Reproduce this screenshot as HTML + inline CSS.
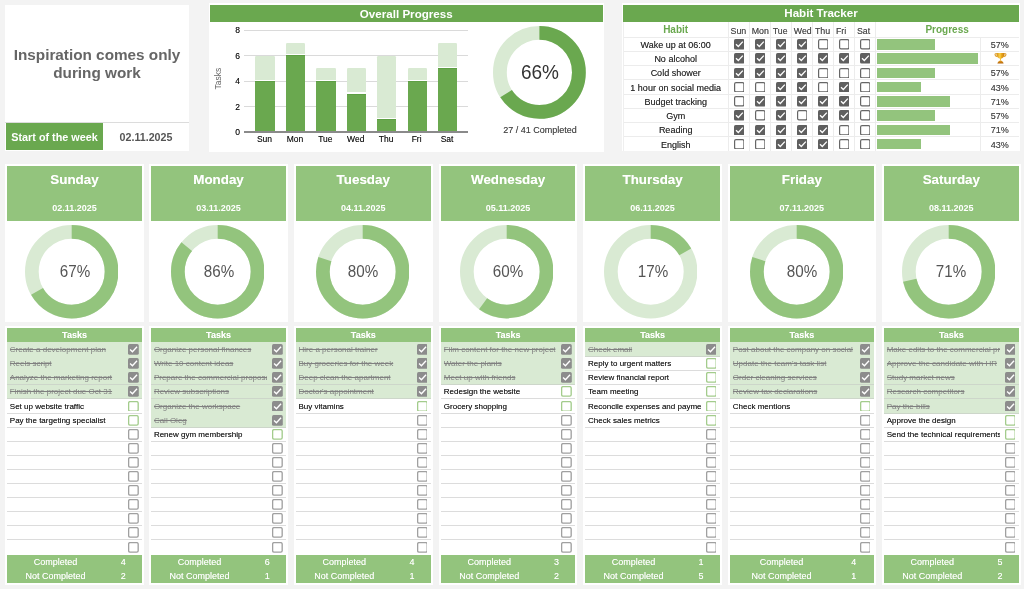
<!DOCTYPE html><html><head><meta charset="utf-8"><style>
html,body{margin:0;padding:0;}
body{width:1024px;height:589px;overflow:hidden;background:#f3f3f3;position:relative;font-family:"Liberation Sans",sans-serif;}
div{box-sizing:border-box;}
body{-webkit-font-smoothing:antialiased;}
#wrap{position:absolute;left:0;top:0;width:1024px;height:589px;will-change:transform;}
</style></head><body><div id="wrap">
<div style="position:absolute;left:5px;top:5px;width:184px;height:146.3px;background:#fff"></div>
<div style="position:absolute;left:5px;top:122px;width:184px;height:1px;background:#dcdcdc"></div>
<div style="position:absolute;left:6px;top:123px;width:97px;height:27.2px;background:#6aa84f"></div>
<div style="position:absolute;left:5px;top:46px;width:184px;height:36px;line-height:36px;text-align:center;white-space:nowrap;font-weight:bold;font-size:15.3px;line-height:17.7px;color:#666;height:auto">Inspiration comes only<br>during work</div>
<div style="position:absolute;left:6px;top:123.6px;width:97px;height:27px;line-height:27px;text-align:center;white-space:nowrap;font-weight:bold;font-size:10.8px;color:#fff">Start of the week</div>
<div style="position:absolute;left:103px;top:123.6px;width:86px;height:27px;line-height:27px;text-align:center;white-space:nowrap;font-weight:bold;font-size:10.7px;color:#555">02.11.2025</div>
<div style="position:absolute;left:209px;top:3px;width:395px;height:148.5px;background:#fff"></div>
<div style="position:absolute;left:209.5px;top:5px;width:393.5px;height:17px;background:#6aa84f"></div>
<div style="position:absolute;left:209.5px;top:5px;width:393.5px;height:17px;line-height:17px;text-align:center;white-space:nowrap;font-weight:bold;font-size:11.6px;color:#fff">Overall Progress</div>
<div style="position:absolute;left:244px;top:29.6px;width:223.5px;height:1px;background:#dadada"></div>
<div style="position:absolute;left:220px;top:24.1px;width:20px;height:12px;line-height:12px;text-align:center;white-space:nowrap;font-size:8.5px;color:#111;text-align:right;text-shadow:0 0 0.4px rgba(0,0,0,0.5)">8</div>
<div style="position:absolute;left:244px;top:55.1px;width:223.5px;height:1px;background:#dadada"></div>
<div style="position:absolute;left:220px;top:49.6px;width:20px;height:12px;line-height:12px;text-align:center;white-space:nowrap;font-size:8.5px;color:#111;text-align:right;text-shadow:0 0 0.4px rgba(0,0,0,0.5)">6</div>
<div style="position:absolute;left:244px;top:80.7px;width:223.5px;height:1px;background:#dadada"></div>
<div style="position:absolute;left:220px;top:75.2px;width:20px;height:12px;line-height:12px;text-align:center;white-space:nowrap;font-size:8.5px;color:#111;text-align:right;text-shadow:0 0 0.4px rgba(0,0,0,0.5)">4</div>
<div style="position:absolute;left:244px;top:106.2px;width:223.5px;height:1px;background:#dadada"></div>
<div style="position:absolute;left:220px;top:100.7px;width:20px;height:12px;line-height:12px;text-align:center;white-space:nowrap;font-size:8.5px;color:#111;text-align:right;text-shadow:0 0 0.4px rgba(0,0,0,0.5)">2</div>
<div style="position:absolute;left:220px;top:126.19999999999999px;width:20px;height:12px;line-height:12px;text-align:center;white-space:nowrap;font-size:8.5px;color:#111;text-align:right;text-shadow:0 0 0.4px rgba(0,0,0,0.5)">0</div>
<div style="position:absolute;left:255.4px;top:55.625px;width:19.4px;height:23.92499999999999px;background:#d9ead3;border-radius:1.3px 1.3px 0 0"></div>
<div style="position:absolute;left:255.4px;top:80.85px;width:19.4px;height:51.349999999999994px;background:#6aa84f;border-top:0.8px solid #5e9f44"></div>
<div style="position:absolute;left:244.8px;top:133.2px;width:39.4px;height:12px;line-height:12px;text-align:center;white-space:nowrap;font-size:8.5px;color:#111;text-shadow:0 0 0.4px rgba(0,0,0,0.5)">Sun</div>
<div style="position:absolute;left:285.82px;top:42.8625px;width:19.4px;height:11.162500000000003px;background:#d9ead3;border-radius:1.3px 1.3px 0 0"></div>
<div style="position:absolute;left:285.82px;top:55.325px;width:19.4px;height:76.87499999999999px;background:#6aa84f;border-top:0.8px solid #5e9f44"></div>
<div style="position:absolute;left:275.21999999999997px;top:133.2px;width:39.4px;height:12px;line-height:12px;text-align:center;white-space:nowrap;font-size:8.5px;color:#111;text-shadow:0 0 0.4px rgba(0,0,0,0.5)">Mon</div>
<div style="position:absolute;left:316.24px;top:68.38749999999999px;width:19.4px;height:11.162500000000003px;background:#d9ead3;border-radius:1.3px 1.3px 0 0"></div>
<div style="position:absolute;left:316.24px;top:80.85px;width:19.4px;height:51.349999999999994px;background:#6aa84f;border-top:0.8px solid #5e9f44"></div>
<div style="position:absolute;left:305.64px;top:133.2px;width:39.4px;height:12px;line-height:12px;text-align:center;white-space:nowrap;font-size:8.5px;color:#111;text-shadow:0 0 0.4px rgba(0,0,0,0.5)">Tue</div>
<div style="position:absolute;left:346.66px;top:68.38749999999999px;width:19.4px;height:23.925000000000004px;background:#d9ead3;border-radius:1.3px 1.3px 0 0"></div>
<div style="position:absolute;left:346.66px;top:93.6125px;width:19.4px;height:38.58749999999999px;background:#6aa84f;border-top:0.8px solid #5e9f44"></div>
<div style="position:absolute;left:336.06px;top:133.2px;width:39.4px;height:12px;line-height:12px;text-align:center;white-space:nowrap;font-size:8.5px;color:#111;text-shadow:0 0 0.4px rgba(0,0,0,0.5)">Wed</div>
<div style="position:absolute;left:377.08000000000004px;top:55.625px;width:19.4px;height:62.212499999999984px;background:#d9ead3;border-radius:1.3px 1.3px 0 0"></div>
<div style="position:absolute;left:377.08000000000004px;top:119.13749999999999px;width:19.4px;height:13.062500000000004px;background:#6aa84f;border-top:0.8px solid #5e9f44"></div>
<div style="position:absolute;left:366.48px;top:133.2px;width:39.4px;height:12px;line-height:12px;text-align:center;white-space:nowrap;font-size:8.5px;color:#111;text-shadow:0 0 0.4px rgba(0,0,0,0.5)">Thu</div>
<div style="position:absolute;left:407.5px;top:68.38749999999999px;width:19.4px;height:11.162500000000003px;background:#d9ead3;border-radius:1.3px 1.3px 0 0"></div>
<div style="position:absolute;left:407.5px;top:80.85px;width:19.4px;height:51.349999999999994px;background:#6aa84f;border-top:0.8px solid #5e9f44"></div>
<div style="position:absolute;left:396.9px;top:133.2px;width:39.4px;height:12px;line-height:12px;text-align:center;white-space:nowrap;font-size:8.5px;color:#111;text-shadow:0 0 0.4px rgba(0,0,0,0.5)">Fri</div>
<div style="position:absolute;left:437.92px;top:42.8625px;width:19.4px;height:23.92499999999999px;background:#d9ead3;border-radius:1.3px 1.3px 0 0"></div>
<div style="position:absolute;left:437.92px;top:68.08749999999999px;width:19.4px;height:64.1125px;background:#6aa84f;border-top:0.8px solid #5e9f44"></div>
<div style="position:absolute;left:427.32px;top:133.2px;width:39.4px;height:12px;line-height:12px;text-align:center;white-space:nowrap;font-size:8.5px;color:#111;text-shadow:0 0 0.4px rgba(0,0,0,0.5)">Sat</div>
<div style="position:absolute;left:244px;top:131.3px;width:223.5px;height:1.4px;background:#8a8a8a"></div>
<div style="position:absolute;left:197.6px;top:73px;width:40px;height:11px;line-height:11px;text-align:center;font-size:8.5px;color:#666;transform:rotate(-90deg)">Tasks</div>
<svg style="position:absolute;left:493.20000000000005px;top:26.1px" width="92.8" height="92.8" viewBox="0 0 92.8 92.8"><circle cx="46.4" cy="46.4" r="39.5" fill="none" stroke="#d9ead3" stroke-width="13.799999999999997"/><circle cx="46.4" cy="46.4" r="39.5" fill="none" stroke="#6aa84f" stroke-width="13.799999999999997" stroke-dasharray="163.439 248.186" transform="rotate(-90 46.4 46.4)"/></svg>
<div style="position:absolute;left:500px;top:60.2px;width:80px;height:24px;line-height:24px;text-align:center;white-space:nowrap;font-size:20px;color:#333;transform:scaleX(0.95)">66%</div>
<div style="position:absolute;left:490px;top:123.7px;width:100px;height:13px;line-height:13px;text-align:center;white-space:nowrap;font-size:9px;color:#4a4a4a;text-shadow:0 0 0.4px rgba(0,0,0,0.5)">27 / 41 Completed</div>
<div style="position:absolute;left:622px;top:3px;width:398px;height:148.2px;background:#fff"></div>
<div style="position:absolute;left:623px;top:5px;width:396px;height:16.5px;background:#6aa84f"></div>
<div style="position:absolute;left:623px;top:5px;width:396px;height:16.5px;line-height:16.5px;text-align:center;white-space:nowrap;font-weight:bold;font-size:11.6px;color:#fff">Habit Tracker</div>
<div style="position:absolute;left:623px;top:36.7px;width:396px;height:1px;background:#ececec"></div>
<div style="position:absolute;left:623px;top:50.95px;width:396px;height:1px;background:#ececec"></div>
<div style="position:absolute;left:623px;top:65.2px;width:396px;height:1px;background:#ececec"></div>
<div style="position:absolute;left:623px;top:79.45px;width:396px;height:1px;background:#ececec"></div>
<div style="position:absolute;left:623px;top:93.7px;width:396px;height:1px;background:#ececec"></div>
<div style="position:absolute;left:623px;top:107.95px;width:396px;height:1px;background:#ececec"></div>
<div style="position:absolute;left:623px;top:122.2px;width:396px;height:1px;background:#ececec"></div>
<div style="position:absolute;left:623px;top:136.45px;width:396px;height:1px;background:#ececec"></div>
<div style="position:absolute;left:727.8px;top:21.5px;width:1px;height:129.7px;background:#ececec"></div>
<div style="position:absolute;left:748.9px;top:21.5px;width:1px;height:129.7px;background:#ececec"></div>
<div style="position:absolute;left:769.9px;top:21.5px;width:1px;height:129.7px;background:#ececec"></div>
<div style="position:absolute;left:791.0px;top:21.5px;width:1px;height:129.7px;background:#ececec"></div>
<div style="position:absolute;left:812.1px;top:21.5px;width:1px;height:129.7px;background:#ececec"></div>
<div style="position:absolute;left:833.1px;top:21.5px;width:1px;height:129.7px;background:#ececec"></div>
<div style="position:absolute;left:854.1px;top:21.5px;width:1px;height:129.7px;background:#ececec"></div>
<div style="position:absolute;left:874.7px;top:21.5px;width:1px;height:129.7px;background:#ececec"></div>
<div style="position:absolute;left:979.8px;top:37.2px;width:1px;height:114px;background:#ececec"></div>
<div style="position:absolute;left:623px;top:21.5px;width:1px;height:129.7px;background:#efefef"></div>
<div style="position:absolute;left:623px;top:21.5px;width:105.3px;height:15.6px;line-height:15.6px;text-align:center;white-space:nowrap;font-weight:bold;font-size:10px;color:#6aa84f">Habit</div>
<div style="position:absolute;left:730.5999999999999px;top:24.2px;width:21.100000000000023px;height:15.6px;line-height:15.6px;text-align:center;white-space:nowrap;text-align:left;font-size:8.8px;color:#4a4a4a;text-shadow:0 0 0.4px rgba(0,0,0,0.5)">Sun</div>
<div style="position:absolute;left:751.6999999999999px;top:24.2px;width:21.0px;height:15.6px;line-height:15.6px;text-align:center;white-space:nowrap;text-align:left;font-size:8.8px;color:#4a4a4a;text-shadow:0 0 0.4px rgba(0,0,0,0.5)">Mon</div>
<div style="position:absolute;left:772.6999999999999px;top:24.2px;width:21.100000000000023px;height:15.6px;line-height:15.6px;text-align:center;white-space:nowrap;text-align:left;font-size:8.8px;color:#4a4a4a;text-shadow:0 0 0.4px rgba(0,0,0,0.5)">Tue</div>
<div style="position:absolute;left:793.8px;top:24.2px;width:21.100000000000023px;height:15.6px;line-height:15.6px;text-align:center;white-space:nowrap;text-align:left;font-size:8.8px;color:#4a4a4a;text-shadow:0 0 0.4px rgba(0,0,0,0.5)">Wed</div>
<div style="position:absolute;left:814.9px;top:24.2px;width:21.0px;height:15.6px;line-height:15.6px;text-align:center;white-space:nowrap;text-align:left;font-size:8.8px;color:#4a4a4a;text-shadow:0 0 0.4px rgba(0,0,0,0.5)">Thu</div>
<div style="position:absolute;left:835.9px;top:24.2px;width:21.0px;height:15.6px;line-height:15.6px;text-align:center;white-space:nowrap;text-align:left;font-size:8.8px;color:#4a4a4a;text-shadow:0 0 0.4px rgba(0,0,0,0.5)">Fri</div>
<div style="position:absolute;left:856.9px;top:24.2px;width:20.600000000000023px;height:15.6px;line-height:15.6px;text-align:center;white-space:nowrap;text-align:left;font-size:8.8px;color:#4a4a4a;text-shadow:0 0 0.4px rgba(0,0,0,0.5)">Sat</div>
<div style="position:absolute;left:875.2px;top:21.5px;width:143.8px;height:15.6px;line-height:15.6px;text-align:center;white-space:nowrap;font-weight:bold;font-size:10px;color:#6aa84f">Progress</div>
<div style="position:absolute;left:623px;top:37.900000000000006px;width:105.3px;height:14.25px;line-height:14.25px;text-align:center;white-space:nowrap;font-size:9px;color:#2a2a2a;text-shadow:0 0 0.4px rgba(0,0,0,0.5)">Wake up at 06:00</div>
<svg style="position:absolute;left:733.5999999999999px;top:39.075px" width="10.5" height="10.5" viewBox="0 0 10.5 10.5"><rect x="0" y="0" width="10.5" height="10.5" rx="1.6" fill="#5f5f5f"/><path d="M2 5.3 L4.3 7.5 L8.8 2.6" fill="none" stroke="#fff" stroke-width="1.3"/></svg>
<svg style="position:absolute;left:754.65px;top:39.075px" width="10.5" height="10.5" viewBox="0 0 10.5 10.5"><rect x="0" y="0" width="10.5" height="10.5" rx="1.6" fill="#5f5f5f"/><path d="M2 5.3 L4.3 7.5 L8.8 2.6" fill="none" stroke="#fff" stroke-width="1.3"/></svg>
<svg style="position:absolute;left:775.7px;top:39.075px" width="10.5" height="10.5" viewBox="0 0 10.5 10.5"><rect x="0" y="0" width="10.5" height="10.5" rx="1.6" fill="#5f5f5f"/><path d="M2 5.3 L4.3 7.5 L8.8 2.6" fill="none" stroke="#fff" stroke-width="1.3"/></svg>
<svg style="position:absolute;left:796.8px;top:39.075px" width="10.5" height="10.5" viewBox="0 0 10.5 10.5"><rect x="0" y="0" width="10.5" height="10.5" rx="1.6" fill="#5f5f5f"/><path d="M2 5.3 L4.3 7.5 L8.8 2.6" fill="none" stroke="#fff" stroke-width="1.3"/></svg>
<svg style="position:absolute;left:817.85px;top:39.075px" width="10.5" height="10.5" viewBox="0 0 10.5 10.5"><rect x="0.6" y="0.6" width="9.3" height="9.3" rx="1.4" fill="#fff" stroke="#666" stroke-width="1.2"/></svg>
<svg style="position:absolute;left:838.85px;top:39.075px" width="10.5" height="10.5" viewBox="0 0 10.5 10.5"><rect x="0.6" y="0.6" width="9.3" height="9.3" rx="1.4" fill="#fff" stroke="#666" stroke-width="1.2"/></svg>
<svg style="position:absolute;left:859.6500000000001px;top:39.075px" width="10.5" height="10.5" viewBox="0 0 10.5 10.5"><rect x="0.6" y="0.6" width="9.3" height="9.3" rx="1.4" fill="#fff" stroke="#666" stroke-width="1.2"/></svg>
<div style="position:absolute;left:877.3px;top:39.225px;width:57.771428571428565px;height:10.5px;background:#93c47d"></div>
<div style="position:absolute;left:980.3px;top:37.900000000000006px;width:38.7px;height:14.25px;line-height:14.25px;text-align:center;white-space:nowrap;font-size:9px;color:#4a4a4a;text-shadow:0 0 0.4px rgba(0,0,0,0.5)">57%</div>
<div style="position:absolute;left:623px;top:52.150000000000006px;width:105.3px;height:14.25px;line-height:14.25px;text-align:center;white-space:nowrap;font-size:9px;color:#2a2a2a;text-shadow:0 0 0.4px rgba(0,0,0,0.5)">No alcohol</div>
<svg style="position:absolute;left:733.5999999999999px;top:53.325px" width="10.5" height="10.5" viewBox="0 0 10.5 10.5"><rect x="0" y="0" width="10.5" height="10.5" rx="1.6" fill="#5f5f5f"/><path d="M2 5.3 L4.3 7.5 L8.8 2.6" fill="none" stroke="#fff" stroke-width="1.3"/></svg>
<svg style="position:absolute;left:754.65px;top:53.325px" width="10.5" height="10.5" viewBox="0 0 10.5 10.5"><rect x="0" y="0" width="10.5" height="10.5" rx="1.6" fill="#5f5f5f"/><path d="M2 5.3 L4.3 7.5 L8.8 2.6" fill="none" stroke="#fff" stroke-width="1.3"/></svg>
<svg style="position:absolute;left:775.7px;top:53.325px" width="10.5" height="10.5" viewBox="0 0 10.5 10.5"><rect x="0" y="0" width="10.5" height="10.5" rx="1.6" fill="#5f5f5f"/><path d="M2 5.3 L4.3 7.5 L8.8 2.6" fill="none" stroke="#fff" stroke-width="1.3"/></svg>
<svg style="position:absolute;left:796.8px;top:53.325px" width="10.5" height="10.5" viewBox="0 0 10.5 10.5"><rect x="0" y="0" width="10.5" height="10.5" rx="1.6" fill="#5f5f5f"/><path d="M2 5.3 L4.3 7.5 L8.8 2.6" fill="none" stroke="#fff" stroke-width="1.3"/></svg>
<svg style="position:absolute;left:817.85px;top:53.325px" width="10.5" height="10.5" viewBox="0 0 10.5 10.5"><rect x="0" y="0" width="10.5" height="10.5" rx="1.6" fill="#5f5f5f"/><path d="M2 5.3 L4.3 7.5 L8.8 2.6" fill="none" stroke="#fff" stroke-width="1.3"/></svg>
<svg style="position:absolute;left:838.85px;top:53.325px" width="10.5" height="10.5" viewBox="0 0 10.5 10.5"><rect x="0" y="0" width="10.5" height="10.5" rx="1.6" fill="#5f5f5f"/><path d="M2 5.3 L4.3 7.5 L8.8 2.6" fill="none" stroke="#fff" stroke-width="1.3"/></svg>
<svg style="position:absolute;left:859.6500000000001px;top:53.325px" width="10.5" height="10.5" viewBox="0 0 10.5 10.5"><rect x="0" y="0" width="10.5" height="10.5" rx="1.6" fill="#5f5f5f"/><path d="M2 5.3 L4.3 7.5 L8.8 2.6" fill="none" stroke="#fff" stroke-width="1.3"/></svg>
<div style="position:absolute;left:877.3px;top:53.475px;width:101.1px;height:10.5px;background:#93c47d"></div>
<svg style="position:absolute;left:993.5px;top:52.3px" width="13" height="12" viewBox="0 0 13 12"><defs><linearGradient id="tg" x1="0" x2="1" y1="0" y2="0"><stop offset="0" stop-color="#d08a10"/><stop offset="0.45" stop-color="#ffd54a"/><stop offset="0.55" stop-color="#f0b020"/><stop offset="1" stop-color="#c87a0c"/></linearGradient><linearGradient id="tb" x1="0" x2="0" y1="0" y2="1"><stop offset="0" stop-color="#e8a020"/><stop offset="1" stop-color="#b0600a"/></linearGradient></defs><path d="M2.4 1.5 C0.3 1.5 0.6 4.2 3.4 4.6 M10.6 1.5 C12.7 1.5 12.4 4.2 9.6 4.6" fill="none" stroke="#e0a030" stroke-width="1.1"/><path d="M2.3 0.9 H10.7 C10.7 4.0 9.4 6.0 7.0 6.7 V8.6 H6.0 V6.7 C3.6 6.0 2.3 4.0 2.3 0.9 Z" fill="url(#tg)"/><path d="M3.4 11.6 C3.6 10.0 5.0 8.9 6.5 8.6 C8.0 8.9 9.4 10.0 9.6 11.6 Z" fill="url(#tb)"/></svg>
<div style="position:absolute;left:623px;top:66.4px;width:105.3px;height:14.25px;line-height:14.25px;text-align:center;white-space:nowrap;font-size:9px;color:#2a2a2a;text-shadow:0 0 0.4px rgba(0,0,0,0.5)">Cold shower</div>
<svg style="position:absolute;left:733.5999999999999px;top:67.575px" width="10.5" height="10.5" viewBox="0 0 10.5 10.5"><rect x="0" y="0" width="10.5" height="10.5" rx="1.6" fill="#5f5f5f"/><path d="M2 5.3 L4.3 7.5 L8.8 2.6" fill="none" stroke="#fff" stroke-width="1.3"/></svg>
<svg style="position:absolute;left:754.65px;top:67.575px" width="10.5" height="10.5" viewBox="0 0 10.5 10.5"><rect x="0" y="0" width="10.5" height="10.5" rx="1.6" fill="#5f5f5f"/><path d="M2 5.3 L4.3 7.5 L8.8 2.6" fill="none" stroke="#fff" stroke-width="1.3"/></svg>
<svg style="position:absolute;left:775.7px;top:67.575px" width="10.5" height="10.5" viewBox="0 0 10.5 10.5"><rect x="0" y="0" width="10.5" height="10.5" rx="1.6" fill="#5f5f5f"/><path d="M2 5.3 L4.3 7.5 L8.8 2.6" fill="none" stroke="#fff" stroke-width="1.3"/></svg>
<svg style="position:absolute;left:796.8px;top:67.575px" width="10.5" height="10.5" viewBox="0 0 10.5 10.5"><rect x="0" y="0" width="10.5" height="10.5" rx="1.6" fill="#5f5f5f"/><path d="M2 5.3 L4.3 7.5 L8.8 2.6" fill="none" stroke="#fff" stroke-width="1.3"/></svg>
<svg style="position:absolute;left:817.85px;top:67.575px" width="10.5" height="10.5" viewBox="0 0 10.5 10.5"><rect x="0.6" y="0.6" width="9.3" height="9.3" rx="1.4" fill="#fff" stroke="#666" stroke-width="1.2"/></svg>
<svg style="position:absolute;left:838.85px;top:67.575px" width="10.5" height="10.5" viewBox="0 0 10.5 10.5"><rect x="0.6" y="0.6" width="9.3" height="9.3" rx="1.4" fill="#fff" stroke="#666" stroke-width="1.2"/></svg>
<svg style="position:absolute;left:859.6500000000001px;top:67.575px" width="10.5" height="10.5" viewBox="0 0 10.5 10.5"><rect x="0.6" y="0.6" width="9.3" height="9.3" rx="1.4" fill="#fff" stroke="#666" stroke-width="1.2"/></svg>
<div style="position:absolute;left:877.3px;top:67.72500000000001px;width:57.771428571428565px;height:10.5px;background:#93c47d"></div>
<div style="position:absolute;left:980.3px;top:66.4px;width:38.7px;height:14.25px;line-height:14.25px;text-align:center;white-space:nowrap;font-size:9px;color:#4a4a4a;text-shadow:0 0 0.4px rgba(0,0,0,0.5)">57%</div>
<div style="position:absolute;left:623px;top:80.65px;width:105.3px;height:14.25px;line-height:14.25px;text-align:center;white-space:nowrap;font-size:9px;color:#2a2a2a;text-shadow:0 0 0.4px rgba(0,0,0,0.5)">1 hour on social media</div>
<svg style="position:absolute;left:733.5999999999999px;top:81.825px" width="10.5" height="10.5" viewBox="0 0 10.5 10.5"><rect x="0.6" y="0.6" width="9.3" height="9.3" rx="1.4" fill="#fff" stroke="#666" stroke-width="1.2"/></svg>
<svg style="position:absolute;left:754.65px;top:81.825px" width="10.5" height="10.5" viewBox="0 0 10.5 10.5"><rect x="0.6" y="0.6" width="9.3" height="9.3" rx="1.4" fill="#fff" stroke="#666" stroke-width="1.2"/></svg>
<svg style="position:absolute;left:775.7px;top:81.825px" width="10.5" height="10.5" viewBox="0 0 10.5 10.5"><rect x="0" y="0" width="10.5" height="10.5" rx="1.6" fill="#5f5f5f"/><path d="M2 5.3 L4.3 7.5 L8.8 2.6" fill="none" stroke="#fff" stroke-width="1.3"/></svg>
<svg style="position:absolute;left:796.8px;top:81.825px" width="10.5" height="10.5" viewBox="0 0 10.5 10.5"><rect x="0" y="0" width="10.5" height="10.5" rx="1.6" fill="#5f5f5f"/><path d="M2 5.3 L4.3 7.5 L8.8 2.6" fill="none" stroke="#fff" stroke-width="1.3"/></svg>
<svg style="position:absolute;left:817.85px;top:81.825px" width="10.5" height="10.5" viewBox="0 0 10.5 10.5"><rect x="0.6" y="0.6" width="9.3" height="9.3" rx="1.4" fill="#fff" stroke="#666" stroke-width="1.2"/></svg>
<svg style="position:absolute;left:838.85px;top:81.825px" width="10.5" height="10.5" viewBox="0 0 10.5 10.5"><rect x="0" y="0" width="10.5" height="10.5" rx="1.6" fill="#5f5f5f"/><path d="M2 5.3 L4.3 7.5 L8.8 2.6" fill="none" stroke="#fff" stroke-width="1.3"/></svg>
<svg style="position:absolute;left:859.6500000000001px;top:81.825px" width="10.5" height="10.5" viewBox="0 0 10.5 10.5"><rect x="0.6" y="0.6" width="9.3" height="9.3" rx="1.4" fill="#fff" stroke="#666" stroke-width="1.2"/></svg>
<div style="position:absolute;left:877.3px;top:81.97500000000001px;width:43.32857142857142px;height:10.5px;background:#93c47d"></div>
<div style="position:absolute;left:980.3px;top:80.65px;width:38.7px;height:14.25px;line-height:14.25px;text-align:center;white-space:nowrap;font-size:9px;color:#4a4a4a;text-shadow:0 0 0.4px rgba(0,0,0,0.5)">43%</div>
<div style="position:absolute;left:623px;top:94.9px;width:105.3px;height:14.25px;line-height:14.25px;text-align:center;white-space:nowrap;font-size:9px;color:#2a2a2a;text-shadow:0 0 0.4px rgba(0,0,0,0.5)">Budget tracking</div>
<svg style="position:absolute;left:733.5999999999999px;top:96.075px" width="10.5" height="10.5" viewBox="0 0 10.5 10.5"><rect x="0.6" y="0.6" width="9.3" height="9.3" rx="1.4" fill="#fff" stroke="#666" stroke-width="1.2"/></svg>
<svg style="position:absolute;left:754.65px;top:96.075px" width="10.5" height="10.5" viewBox="0 0 10.5 10.5"><rect x="0" y="0" width="10.5" height="10.5" rx="1.6" fill="#5f5f5f"/><path d="M2 5.3 L4.3 7.5 L8.8 2.6" fill="none" stroke="#fff" stroke-width="1.3"/></svg>
<svg style="position:absolute;left:775.7px;top:96.075px" width="10.5" height="10.5" viewBox="0 0 10.5 10.5"><rect x="0" y="0" width="10.5" height="10.5" rx="1.6" fill="#5f5f5f"/><path d="M2 5.3 L4.3 7.5 L8.8 2.6" fill="none" stroke="#fff" stroke-width="1.3"/></svg>
<svg style="position:absolute;left:796.8px;top:96.075px" width="10.5" height="10.5" viewBox="0 0 10.5 10.5"><rect x="0" y="0" width="10.5" height="10.5" rx="1.6" fill="#5f5f5f"/><path d="M2 5.3 L4.3 7.5 L8.8 2.6" fill="none" stroke="#fff" stroke-width="1.3"/></svg>
<svg style="position:absolute;left:817.85px;top:96.075px" width="10.5" height="10.5" viewBox="0 0 10.5 10.5"><rect x="0" y="0" width="10.5" height="10.5" rx="1.6" fill="#5f5f5f"/><path d="M2 5.3 L4.3 7.5 L8.8 2.6" fill="none" stroke="#fff" stroke-width="1.3"/></svg>
<svg style="position:absolute;left:838.85px;top:96.075px" width="10.5" height="10.5" viewBox="0 0 10.5 10.5"><rect x="0" y="0" width="10.5" height="10.5" rx="1.6" fill="#5f5f5f"/><path d="M2 5.3 L4.3 7.5 L8.8 2.6" fill="none" stroke="#fff" stroke-width="1.3"/></svg>
<svg style="position:absolute;left:859.6500000000001px;top:96.075px" width="10.5" height="10.5" viewBox="0 0 10.5 10.5"><rect x="0.6" y="0.6" width="9.3" height="9.3" rx="1.4" fill="#fff" stroke="#666" stroke-width="1.2"/></svg>
<div style="position:absolute;left:877.3px;top:96.22500000000001px;width:72.21428571428571px;height:10.5px;background:#93c47d"></div>
<div style="position:absolute;left:980.3px;top:94.9px;width:38.7px;height:14.25px;line-height:14.25px;text-align:center;white-space:nowrap;font-size:9px;color:#4a4a4a;text-shadow:0 0 0.4px rgba(0,0,0,0.5)">71%</div>
<div style="position:absolute;left:623px;top:109.15px;width:105.3px;height:14.25px;line-height:14.25px;text-align:center;white-space:nowrap;font-size:9px;color:#2a2a2a;text-shadow:0 0 0.4px rgba(0,0,0,0.5)">Gym</div>
<svg style="position:absolute;left:733.5999999999999px;top:110.325px" width="10.5" height="10.5" viewBox="0 0 10.5 10.5"><rect x="0" y="0" width="10.5" height="10.5" rx="1.6" fill="#5f5f5f"/><path d="M2 5.3 L4.3 7.5 L8.8 2.6" fill="none" stroke="#fff" stroke-width="1.3"/></svg>
<svg style="position:absolute;left:754.65px;top:110.325px" width="10.5" height="10.5" viewBox="0 0 10.5 10.5"><rect x="0.6" y="0.6" width="9.3" height="9.3" rx="1.4" fill="#fff" stroke="#666" stroke-width="1.2"/></svg>
<svg style="position:absolute;left:775.7px;top:110.325px" width="10.5" height="10.5" viewBox="0 0 10.5 10.5"><rect x="0" y="0" width="10.5" height="10.5" rx="1.6" fill="#5f5f5f"/><path d="M2 5.3 L4.3 7.5 L8.8 2.6" fill="none" stroke="#fff" stroke-width="1.3"/></svg>
<svg style="position:absolute;left:796.8px;top:110.325px" width="10.5" height="10.5" viewBox="0 0 10.5 10.5"><rect x="0.6" y="0.6" width="9.3" height="9.3" rx="1.4" fill="#fff" stroke="#666" stroke-width="1.2"/></svg>
<svg style="position:absolute;left:817.85px;top:110.325px" width="10.5" height="10.5" viewBox="0 0 10.5 10.5"><rect x="0" y="0" width="10.5" height="10.5" rx="1.6" fill="#5f5f5f"/><path d="M2 5.3 L4.3 7.5 L8.8 2.6" fill="none" stroke="#fff" stroke-width="1.3"/></svg>
<svg style="position:absolute;left:838.85px;top:110.325px" width="10.5" height="10.5" viewBox="0 0 10.5 10.5"><rect x="0" y="0" width="10.5" height="10.5" rx="1.6" fill="#5f5f5f"/><path d="M2 5.3 L4.3 7.5 L8.8 2.6" fill="none" stroke="#fff" stroke-width="1.3"/></svg>
<svg style="position:absolute;left:859.6500000000001px;top:110.325px" width="10.5" height="10.5" viewBox="0 0 10.5 10.5"><rect x="0.6" y="0.6" width="9.3" height="9.3" rx="1.4" fill="#fff" stroke="#666" stroke-width="1.2"/></svg>
<div style="position:absolute;left:877.3px;top:110.47500000000001px;width:57.771428571428565px;height:10.5px;background:#93c47d"></div>
<div style="position:absolute;left:980.3px;top:109.15px;width:38.7px;height:14.25px;line-height:14.25px;text-align:center;white-space:nowrap;font-size:9px;color:#4a4a4a;text-shadow:0 0 0.4px rgba(0,0,0,0.5)">57%</div>
<div style="position:absolute;left:623px;top:123.4px;width:105.3px;height:14.25px;line-height:14.25px;text-align:center;white-space:nowrap;font-size:9px;color:#2a2a2a;text-shadow:0 0 0.4px rgba(0,0,0,0.5)">Reading</div>
<svg style="position:absolute;left:733.5999999999999px;top:124.57499999999999px" width="10.5" height="10.5" viewBox="0 0 10.5 10.5"><rect x="0" y="0" width="10.5" height="10.5" rx="1.6" fill="#5f5f5f"/><path d="M2 5.3 L4.3 7.5 L8.8 2.6" fill="none" stroke="#fff" stroke-width="1.3"/></svg>
<svg style="position:absolute;left:754.65px;top:124.57499999999999px" width="10.5" height="10.5" viewBox="0 0 10.5 10.5"><rect x="0" y="0" width="10.5" height="10.5" rx="1.6" fill="#5f5f5f"/><path d="M2 5.3 L4.3 7.5 L8.8 2.6" fill="none" stroke="#fff" stroke-width="1.3"/></svg>
<svg style="position:absolute;left:775.7px;top:124.57499999999999px" width="10.5" height="10.5" viewBox="0 0 10.5 10.5"><rect x="0" y="0" width="10.5" height="10.5" rx="1.6" fill="#5f5f5f"/><path d="M2 5.3 L4.3 7.5 L8.8 2.6" fill="none" stroke="#fff" stroke-width="1.3"/></svg>
<svg style="position:absolute;left:796.8px;top:124.57499999999999px" width="10.5" height="10.5" viewBox="0 0 10.5 10.5"><rect x="0" y="0" width="10.5" height="10.5" rx="1.6" fill="#5f5f5f"/><path d="M2 5.3 L4.3 7.5 L8.8 2.6" fill="none" stroke="#fff" stroke-width="1.3"/></svg>
<svg style="position:absolute;left:817.85px;top:124.57499999999999px" width="10.5" height="10.5" viewBox="0 0 10.5 10.5"><rect x="0" y="0" width="10.5" height="10.5" rx="1.6" fill="#5f5f5f"/><path d="M2 5.3 L4.3 7.5 L8.8 2.6" fill="none" stroke="#fff" stroke-width="1.3"/></svg>
<svg style="position:absolute;left:838.85px;top:124.57499999999999px" width="10.5" height="10.5" viewBox="0 0 10.5 10.5"><rect x="0.6" y="0.6" width="9.3" height="9.3" rx="1.4" fill="#fff" stroke="#666" stroke-width="1.2"/></svg>
<svg style="position:absolute;left:859.6500000000001px;top:124.57499999999999px" width="10.5" height="10.5" viewBox="0 0 10.5 10.5"><rect x="0.6" y="0.6" width="9.3" height="9.3" rx="1.4" fill="#fff" stroke="#666" stroke-width="1.2"/></svg>
<div style="position:absolute;left:877.3px;top:124.725px;width:72.21428571428571px;height:10.5px;background:#93c47d"></div>
<div style="position:absolute;left:980.3px;top:123.4px;width:38.7px;height:14.25px;line-height:14.25px;text-align:center;white-space:nowrap;font-size:9px;color:#4a4a4a;text-shadow:0 0 0.4px rgba(0,0,0,0.5)">71%</div>
<div style="position:absolute;left:623px;top:137.64999999999998px;width:105.3px;height:14.25px;line-height:14.25px;text-align:center;white-space:nowrap;font-size:9px;color:#2a2a2a;text-shadow:0 0 0.4px rgba(0,0,0,0.5)">English</div>
<svg style="position:absolute;left:733.5999999999999px;top:138.825px" width="10.5" height="10.5" viewBox="0 0 10.5 10.5"><rect x="0.6" y="0.6" width="9.3" height="9.3" rx="1.4" fill="#fff" stroke="#666" stroke-width="1.2"/></svg>
<svg style="position:absolute;left:754.65px;top:138.825px" width="10.5" height="10.5" viewBox="0 0 10.5 10.5"><rect x="0.6" y="0.6" width="9.3" height="9.3" rx="1.4" fill="#fff" stroke="#666" stroke-width="1.2"/></svg>
<svg style="position:absolute;left:775.7px;top:138.825px" width="10.5" height="10.5" viewBox="0 0 10.5 10.5"><rect x="0" y="0" width="10.5" height="10.5" rx="1.6" fill="#5f5f5f"/><path d="M2 5.3 L4.3 7.5 L8.8 2.6" fill="none" stroke="#fff" stroke-width="1.3"/></svg>
<svg style="position:absolute;left:796.8px;top:138.825px" width="10.5" height="10.5" viewBox="0 0 10.5 10.5"><rect x="0" y="0" width="10.5" height="10.5" rx="1.6" fill="#5f5f5f"/><path d="M2 5.3 L4.3 7.5 L8.8 2.6" fill="none" stroke="#fff" stroke-width="1.3"/></svg>
<svg style="position:absolute;left:817.85px;top:138.825px" width="10.5" height="10.5" viewBox="0 0 10.5 10.5"><rect x="0" y="0" width="10.5" height="10.5" rx="1.6" fill="#5f5f5f"/><path d="M2 5.3 L4.3 7.5 L8.8 2.6" fill="none" stroke="#fff" stroke-width="1.3"/></svg>
<svg style="position:absolute;left:838.85px;top:138.825px" width="10.5" height="10.5" viewBox="0 0 10.5 10.5"><rect x="0.6" y="0.6" width="9.3" height="9.3" rx="1.4" fill="#fff" stroke="#666" stroke-width="1.2"/></svg>
<svg style="position:absolute;left:859.6500000000001px;top:138.825px" width="10.5" height="10.5" viewBox="0 0 10.5 10.5"><rect x="0.6" y="0.6" width="9.3" height="9.3" rx="1.4" fill="#fff" stroke="#666" stroke-width="1.2"/></svg>
<div style="position:absolute;left:877.3px;top:138.975px;width:43.32857142857142px;height:10.5px;background:#93c47d"></div>
<div style="position:absolute;left:980.3px;top:137.64999999999998px;width:38.7px;height:14.25px;line-height:14.25px;text-align:center;white-space:nowrap;font-size:9px;color:#4a4a4a;text-shadow:0 0 0.4px rgba(0,0,0,0.5)">43%</div>
<div style="position:absolute;left:5px;top:164px;width:139px;height:158px;background:#fff"></div>
<div style="position:absolute;left:6.8px;top:166px;width:135.4px;height:54.7px;background:#93c47d"></div>
<div style="position:absolute;left:6.8px;top:171px;width:135.4px;height:18px;line-height:18px;text-align:center;white-space:nowrap;font-weight:bold;font-size:13.4px;color:#fff;text-shadow:0 0 0.4px rgba(255,255,255,0.6)">Sunday</div>
<div style="position:absolute;left:6.8px;top:200.7px;width:135.4px;height:14px;line-height:14px;text-align:center;white-space:nowrap;font-weight:bold;font-size:9px;color:#fff">02.11.2025</div>
<svg style="position:absolute;left:24.89999999999999px;top:225.2px" width="93.4" height="93.4" viewBox="0 0 93.4 93.4"><circle cx="46.7" cy="46.7" r="39.85" fill="none" stroke="#d9ead3" stroke-width="13.700000000000003"/><circle cx="46.7" cy="46.7" r="39.85" fill="none" stroke="#93c47d" stroke-width="13.700000000000003" stroke-dasharray="166.923 250.385" transform="rotate(-90 46.7 46.7)"/></svg>
<div style="position:absolute;left:34.5px;top:262px;width:80px;height:20px;line-height:20px;text-align:center;white-space:nowrap;font-size:16px;color:#555;transform:scaleX(0.95)">67%</div>
<div style="position:absolute;left:5px;top:325.5px;width:139px;height:259px;background:#fff"></div>
<div style="position:absolute;left:6.8px;top:328px;width:135.4px;height:14px;background:#93c47d"></div>
<div style="position:absolute;left:6.8px;top:328px;width:135.4px;height:14px;line-height:14px;text-align:center;white-space:nowrap;font-weight:bold;font-size:9px;color:#fff;text-shadow:0 0 0.4px rgba(255,255,255,0.6)">Tasks</div>
<div style="position:absolute;left:6.8px;top:342px;width:135.4px;height:14.300000000000011px;background:#d9ead3"></div>
<div style="position:absolute;left:6.8px;top:355.8px;width:135.4px;height:1px;background:#cdd6ca"></div>
<div style="position:absolute;left:9.8px;top:342.8px;width:113.20000000000002px;height:14.300000000000011px;line-height:14.300000000000011px;white-space:nowrap;overflow:hidden;font-size:8px;color:#808080;text-decoration:line-through">Create a development plan</div>
<svg style="position:absolute;left:127.80000000000001px;top:343.75px" width="10.8" height="10.8" viewBox="0 0 10.5 10.5"><rect x="0" y="0" width="10.5" height="10.5" rx="1.6" fill="#8c8c8c"/><path d="M2 5.3 L4.3 7.5 L8.8 2.6" fill="none" stroke="#fff" stroke-width="1.3"/></svg>
<div style="position:absolute;left:6.8px;top:356.3px;width:135.4px;height:14.099999999999966px;background:#d9ead3"></div>
<div style="position:absolute;left:6.8px;top:369.9px;width:135.4px;height:1px;background:#cdd6ca"></div>
<div style="position:absolute;left:9.8px;top:357.1px;width:113.20000000000002px;height:14.099999999999966px;line-height:14.099999999999966px;white-space:nowrap;overflow:hidden;font-size:8px;color:#808080;text-decoration:line-through">Reels script</div>
<svg style="position:absolute;left:127.80000000000001px;top:357.95000000000005px" width="10.8" height="10.8" viewBox="0 0 10.5 10.5"><rect x="0" y="0" width="10.5" height="10.5" rx="1.6" fill="#8c8c8c"/><path d="M2 5.3 L4.3 7.5 L8.8 2.6" fill="none" stroke="#fff" stroke-width="1.3"/></svg>
<div style="position:absolute;left:6.8px;top:370.4px;width:135.4px;height:14.200000000000045px;background:#d9ead3"></div>
<div style="position:absolute;left:6.8px;top:384.1px;width:135.4px;height:1px;background:#cdd6ca"></div>
<div style="position:absolute;left:9.8px;top:371.2px;width:113.20000000000002px;height:14.200000000000045px;line-height:14.200000000000045px;white-space:nowrap;overflow:hidden;font-size:8px;color:#808080;text-decoration:line-through">Analyze the marketing report</div>
<svg style="position:absolute;left:127.80000000000001px;top:372.1px" width="10.8" height="10.8" viewBox="0 0 10.5 10.5"><rect x="0" y="0" width="10.5" height="10.5" rx="1.6" fill="#8c8c8c"/><path d="M2 5.3 L4.3 7.5 L8.8 2.6" fill="none" stroke="#fff" stroke-width="1.3"/></svg>
<div style="position:absolute;left:6.8px;top:384.6px;width:135.4px;height:14.149999999999977px;background:#d9ead3"></div>
<div style="position:absolute;left:6.8px;top:398.25px;width:135.4px;height:1px;background:#cdd6ca"></div>
<div style="position:absolute;left:9.8px;top:385.40000000000003px;width:113.20000000000002px;height:14.149999999999977px;line-height:14.149999999999977px;white-space:nowrap;overflow:hidden;font-size:8px;color:#808080;text-decoration:line-through">Finish the project due Oct 31</div>
<svg style="position:absolute;left:127.80000000000001px;top:386.27500000000003px" width="10.8" height="10.8" viewBox="0 0 10.5 10.5"><rect x="0" y="0" width="10.5" height="10.5" rx="1.6" fill="#8c8c8c"/><path d="M2 5.3 L4.3 7.5 L8.8 2.6" fill="none" stroke="#fff" stroke-width="1.3"/></svg>
<div style="position:absolute;left:6.8px;top:412.7px;width:135.4px;height:1px;background:#dcdcdc"></div>
<div style="position:absolute;left:9.8px;top:399.55px;width:113.20000000000002px;height:14.449999999999989px;line-height:14.449999999999989px;white-space:nowrap;overflow:hidden;font-size:8px;color:#222;text-shadow:0 0 0.4px rgba(0,0,0,0.6)">Set up website traffic</div>
<svg style="position:absolute;left:127.80000000000001px;top:400.57500000000005px" width="10.8" height="10.8" viewBox="0 0 10.5 10.5"><rect x="0.6" y="0.6" width="9.3" height="9.3" rx="1.4" fill="#fff" stroke="#a3cc8c" stroke-width="1.3"/></svg>
<div style="position:absolute;left:6.8px;top:426.9px;width:135.4px;height:1px;background:#dcdcdc"></div>
<div style="position:absolute;left:9.8px;top:414.0px;width:113.20000000000002px;height:14.199999999999989px;line-height:14.199999999999989px;white-space:nowrap;overflow:hidden;font-size:8px;color:#222;text-shadow:0 0 0.4px rgba(0,0,0,0.6)">Pay the targeting specialist</div>
<svg style="position:absolute;left:127.80000000000001px;top:414.9px" width="10.8" height="10.8" viewBox="0 0 10.5 10.5"><rect x="0.6" y="0.6" width="9.3" height="9.3" rx="1.4" fill="#fff" stroke="#a3cc8c" stroke-width="1.3"/></svg>
<div style="position:absolute;left:6.8px;top:441.0px;width:135.4px;height:1px;background:#dcdcdc"></div>
<svg style="position:absolute;left:127.80000000000001px;top:429.05px" width="10.8" height="10.8" viewBox="0 0 10.5 10.5"><rect x="0.6" y="0.6" width="9.3" height="9.3" rx="1.4" fill="#fff" stroke="#a0a0a0" stroke-width="1.3"/></svg>
<div style="position:absolute;left:6.8px;top:455.1px;width:135.4px;height:1px;background:#dcdcdc"></div>
<svg style="position:absolute;left:127.80000000000001px;top:443.15000000000003px" width="10.8" height="10.8" viewBox="0 0 10.5 10.5"><rect x="0.6" y="0.6" width="9.3" height="9.3" rx="1.4" fill="#fff" stroke="#a0a0a0" stroke-width="1.3"/></svg>
<div style="position:absolute;left:6.8px;top:468.8px;width:135.4px;height:1px;background:#dcdcdc"></div>
<svg style="position:absolute;left:127.80000000000001px;top:457.05000000000007px" width="10.8" height="10.8" viewBox="0 0 10.5 10.5"><rect x="0.6" y="0.6" width="9.3" height="9.3" rx="1.4" fill="#fff" stroke="#a0a0a0" stroke-width="1.3"/></svg>
<div style="position:absolute;left:6.8px;top:482.9px;width:135.4px;height:1px;background:#dcdcdc"></div>
<svg style="position:absolute;left:127.80000000000001px;top:470.95000000000005px" width="10.8" height="10.8" viewBox="0 0 10.5 10.5"><rect x="0.6" y="0.6" width="9.3" height="9.3" rx="1.4" fill="#fff" stroke="#a0a0a0" stroke-width="1.3"/></svg>
<div style="position:absolute;left:6.8px;top:497.1px;width:135.4px;height:1px;background:#dcdcdc"></div>
<svg style="position:absolute;left:127.80000000000001px;top:485.1px" width="10.8" height="10.8" viewBox="0 0 10.5 10.5"><rect x="0.6" y="0.6" width="9.3" height="9.3" rx="1.4" fill="#fff" stroke="#a0a0a0" stroke-width="1.3"/></svg>
<div style="position:absolute;left:6.8px;top:511.2px;width:135.4px;height:1px;background:#dcdcdc"></div>
<svg style="position:absolute;left:127.80000000000001px;top:499.25px" width="10.8" height="10.8" viewBox="0 0 10.5 10.5"><rect x="0.6" y="0.6" width="9.3" height="9.3" rx="1.4" fill="#fff" stroke="#a0a0a0" stroke-width="1.3"/></svg>
<div style="position:absolute;left:6.8px;top:525.3px;width:135.4px;height:1px;background:#dcdcdc"></div>
<svg style="position:absolute;left:127.80000000000001px;top:513.35px" width="10.8" height="10.8" viewBox="0 0 10.5 10.5"><rect x="0.6" y="0.6" width="9.3" height="9.3" rx="1.4" fill="#fff" stroke="#a0a0a0" stroke-width="1.3"/></svg>
<div style="position:absolute;left:6.8px;top:539.2px;width:135.4px;height:1px;background:#dcdcdc"></div>
<svg style="position:absolute;left:127.80000000000001px;top:527.35px" width="10.8" height="10.8" viewBox="0 0 10.5 10.5"><rect x="0.6" y="0.6" width="9.3" height="9.3" rx="1.4" fill="#fff" stroke="#a0a0a0" stroke-width="1.3"/></svg>
<svg style="position:absolute;left:127.80000000000001px;top:541.95px" width="10.8" height="10.8" viewBox="0 0 10.5 10.5"><rect x="0.6" y="0.6" width="9.3" height="9.3" rx="1.4" fill="#fff" stroke="#a0a0a0" stroke-width="1.3"/></svg>
<div style="position:absolute;left:6.8px;top:555px;width:135.4px;height:27.8px;background:#93c47d"></div>
<div style="position:absolute;left:6.8px;top:555px;width:97.34378698224855px;height:14px;line-height:14px;text-align:center;white-space:nowrap;font-size:9px;color:#fff;text-shadow:0 0 0.4px rgba(255,255,255,0.6)">Completed</div>
<div style="position:absolute;left:6.8px;top:569px;width:97.34378698224855px;height:14px;line-height:14px;text-align:center;white-space:nowrap;font-size:9px;color:#fff;text-shadow:0 0 0.4px rgba(255,255,255,0.6)">Not Completed</div>
<div style="position:absolute;left:104.14378698224854px;top:555px;width:38.056213017751475px;height:14px;line-height:14px;text-align:center;white-space:nowrap;font-size:9px;color:#fff;text-shadow:0 0 0.4px rgba(255,255,255,0.6)">4</div>
<div style="position:absolute;left:104.14378698224854px;top:569px;width:38.056213017751475px;height:14px;line-height:14px;text-align:center;white-space:nowrap;font-size:9px;color:#fff;text-shadow:0 0 0.4px rgba(255,255,255,0.6)">2</div>
<div style="position:absolute;left:149.1px;top:164px;width:138.9px;height:158px;background:#fff"></div>
<div style="position:absolute;left:150.9px;top:166px;width:135.3px;height:54.7px;background:#93c47d"></div>
<div style="position:absolute;left:150.9px;top:171px;width:135.3px;height:18px;line-height:18px;text-align:center;white-space:nowrap;font-weight:bold;font-size:13.4px;color:#fff;text-shadow:0 0 0.4px rgba(255,255,255,0.6)">Monday</div>
<div style="position:absolute;left:150.9px;top:200.7px;width:135.3px;height:14px;line-height:14px;text-align:center;white-space:nowrap;font-weight:bold;font-size:9px;color:#fff">03.11.2025</div>
<svg style="position:absolute;left:170.60000000000002px;top:225.2px" width="93.4" height="93.4" viewBox="0 0 93.4 93.4"><circle cx="46.7" cy="46.7" r="39.85" fill="none" stroke="#d9ead3" stroke-width="13.700000000000003"/><circle cx="46.7" cy="46.7" r="39.85" fill="none" stroke="#93c47d" stroke-width="13.700000000000003" stroke-dasharray="214.616 250.385" transform="rotate(-90 46.7 46.7)"/></svg>
<div style="position:absolute;left:178.55px;top:262px;width:80px;height:20px;line-height:20px;text-align:center;white-space:nowrap;font-size:16px;color:#555;transform:scaleX(0.95)">86%</div>
<div style="position:absolute;left:149.1px;top:325.5px;width:138.9px;height:259px;background:#fff"></div>
<div style="position:absolute;left:150.9px;top:328px;width:135.3px;height:14px;background:#93c47d"></div>
<div style="position:absolute;left:150.9px;top:328px;width:135.3px;height:14px;line-height:14px;text-align:center;white-space:nowrap;font-weight:bold;font-size:9px;color:#fff;text-shadow:0 0 0.4px rgba(255,255,255,0.6)">Tasks</div>
<div style="position:absolute;left:150.9px;top:342px;width:135.3px;height:14.300000000000011px;background:#d9ead3"></div>
<div style="position:absolute;left:150.9px;top:355.8px;width:135.3px;height:1px;background:#cdd6ca"></div>
<div style="position:absolute;left:153.9px;top:342.8px;width:113.10000000000005px;height:14.300000000000011px;line-height:14.300000000000011px;white-space:nowrap;overflow:hidden;font-size:8px;color:#808080;text-decoration:line-through">Organize personal finances</div>
<svg style="position:absolute;left:271.80000000000007px;top:343.75px" width="10.8" height="10.8" viewBox="0 0 10.5 10.5"><rect x="0" y="0" width="10.5" height="10.5" rx="1.6" fill="#8c8c8c"/><path d="M2 5.3 L4.3 7.5 L8.8 2.6" fill="none" stroke="#fff" stroke-width="1.3"/></svg>
<div style="position:absolute;left:150.9px;top:356.3px;width:135.3px;height:14.099999999999966px;background:#d9ead3"></div>
<div style="position:absolute;left:150.9px;top:369.9px;width:135.3px;height:1px;background:#cdd6ca"></div>
<div style="position:absolute;left:153.9px;top:357.1px;width:113.10000000000005px;height:14.099999999999966px;line-height:14.099999999999966px;white-space:nowrap;overflow:hidden;font-size:8px;color:#808080;text-decoration:line-through">Write 10 content ideas</div>
<svg style="position:absolute;left:271.80000000000007px;top:357.95000000000005px" width="10.8" height="10.8" viewBox="0 0 10.5 10.5"><rect x="0" y="0" width="10.5" height="10.5" rx="1.6" fill="#8c8c8c"/><path d="M2 5.3 L4.3 7.5 L8.8 2.6" fill="none" stroke="#fff" stroke-width="1.3"/></svg>
<div style="position:absolute;left:150.9px;top:370.4px;width:135.3px;height:14.200000000000045px;background:#d9ead3"></div>
<div style="position:absolute;left:150.9px;top:384.1px;width:135.3px;height:1px;background:#cdd6ca"></div>
<div style="position:absolute;left:153.9px;top:371.2px;width:113.10000000000005px;height:14.200000000000045px;line-height:14.200000000000045px;white-space:nowrap;overflow:hidden;font-size:8px;color:#808080;text-decoration:line-through">Prepare the commercial proposal</div>
<svg style="position:absolute;left:271.80000000000007px;top:372.1px" width="10.8" height="10.8" viewBox="0 0 10.5 10.5"><rect x="0" y="0" width="10.5" height="10.5" rx="1.6" fill="#8c8c8c"/><path d="M2 5.3 L4.3 7.5 L8.8 2.6" fill="none" stroke="#fff" stroke-width="1.3"/></svg>
<div style="position:absolute;left:150.9px;top:384.6px;width:135.3px;height:14.149999999999977px;background:#d9ead3"></div>
<div style="position:absolute;left:150.9px;top:398.25px;width:135.3px;height:1px;background:#cdd6ca"></div>
<div style="position:absolute;left:153.9px;top:385.40000000000003px;width:113.10000000000005px;height:14.149999999999977px;line-height:14.149999999999977px;white-space:nowrap;overflow:hidden;font-size:8px;color:#808080;text-decoration:line-through">Review subscriptions</div>
<svg style="position:absolute;left:271.80000000000007px;top:386.27500000000003px" width="10.8" height="10.8" viewBox="0 0 10.5 10.5"><rect x="0" y="0" width="10.5" height="10.5" rx="1.6" fill="#8c8c8c"/><path d="M2 5.3 L4.3 7.5 L8.8 2.6" fill="none" stroke="#fff" stroke-width="1.3"/></svg>
<div style="position:absolute;left:150.9px;top:398.75px;width:135.3px;height:14.449999999999989px;background:#d9ead3"></div>
<div style="position:absolute;left:150.9px;top:412.7px;width:135.3px;height:1px;background:#cdd6ca"></div>
<div style="position:absolute;left:153.9px;top:399.55px;width:113.10000000000005px;height:14.449999999999989px;line-height:14.449999999999989px;white-space:nowrap;overflow:hidden;font-size:8px;color:#808080;text-decoration:line-through">Organize the workspace</div>
<svg style="position:absolute;left:271.80000000000007px;top:400.57500000000005px" width="10.8" height="10.8" viewBox="0 0 10.5 10.5"><rect x="0" y="0" width="10.5" height="10.5" rx="1.6" fill="#8c8c8c"/><path d="M2 5.3 L4.3 7.5 L8.8 2.6" fill="none" stroke="#fff" stroke-width="1.3"/></svg>
<div style="position:absolute;left:150.9px;top:413.2px;width:135.3px;height:14.199999999999989px;background:#d9ead3"></div>
<div style="position:absolute;left:150.9px;top:426.9px;width:135.3px;height:1px;background:#cdd6ca"></div>
<div style="position:absolute;left:153.9px;top:414.0px;width:113.10000000000005px;height:14.199999999999989px;line-height:14.199999999999989px;white-space:nowrap;overflow:hidden;font-size:8px;color:#808080;text-decoration:line-through">Call Oleg</div>
<svg style="position:absolute;left:271.80000000000007px;top:414.9px" width="10.8" height="10.8" viewBox="0 0 10.5 10.5"><rect x="0" y="0" width="10.5" height="10.5" rx="1.6" fill="#8c8c8c"/><path d="M2 5.3 L4.3 7.5 L8.8 2.6" fill="none" stroke="#fff" stroke-width="1.3"/></svg>
<div style="position:absolute;left:150.9px;top:441.0px;width:135.3px;height:1px;background:#dcdcdc"></div>
<div style="position:absolute;left:153.9px;top:428.2px;width:113.10000000000005px;height:14.100000000000023px;line-height:14.100000000000023px;white-space:nowrap;overflow:hidden;font-size:8px;color:#222;text-shadow:0 0 0.4px rgba(0,0,0,0.6)">Renew gym membership</div>
<svg style="position:absolute;left:271.80000000000007px;top:429.05px" width="10.8" height="10.8" viewBox="0 0 10.5 10.5"><rect x="0.6" y="0.6" width="9.3" height="9.3" rx="1.4" fill="#fff" stroke="#a3cc8c" stroke-width="1.3"/></svg>
<div style="position:absolute;left:150.9px;top:455.1px;width:135.3px;height:1px;background:#dcdcdc"></div>
<svg style="position:absolute;left:271.80000000000007px;top:443.15000000000003px" width="10.8" height="10.8" viewBox="0 0 10.5 10.5"><rect x="0.6" y="0.6" width="9.3" height="9.3" rx="1.4" fill="#fff" stroke="#a0a0a0" stroke-width="1.3"/></svg>
<div style="position:absolute;left:150.9px;top:468.8px;width:135.3px;height:1px;background:#dcdcdc"></div>
<svg style="position:absolute;left:271.80000000000007px;top:457.05000000000007px" width="10.8" height="10.8" viewBox="0 0 10.5 10.5"><rect x="0.6" y="0.6" width="9.3" height="9.3" rx="1.4" fill="#fff" stroke="#a0a0a0" stroke-width="1.3"/></svg>
<div style="position:absolute;left:150.9px;top:482.9px;width:135.3px;height:1px;background:#dcdcdc"></div>
<svg style="position:absolute;left:271.80000000000007px;top:470.95000000000005px" width="10.8" height="10.8" viewBox="0 0 10.5 10.5"><rect x="0.6" y="0.6" width="9.3" height="9.3" rx="1.4" fill="#fff" stroke="#a0a0a0" stroke-width="1.3"/></svg>
<div style="position:absolute;left:150.9px;top:497.1px;width:135.3px;height:1px;background:#dcdcdc"></div>
<svg style="position:absolute;left:271.80000000000007px;top:485.1px" width="10.8" height="10.8" viewBox="0 0 10.5 10.5"><rect x="0.6" y="0.6" width="9.3" height="9.3" rx="1.4" fill="#fff" stroke="#a0a0a0" stroke-width="1.3"/></svg>
<div style="position:absolute;left:150.9px;top:511.2px;width:135.3px;height:1px;background:#dcdcdc"></div>
<svg style="position:absolute;left:271.80000000000007px;top:499.25px" width="10.8" height="10.8" viewBox="0 0 10.5 10.5"><rect x="0.6" y="0.6" width="9.3" height="9.3" rx="1.4" fill="#fff" stroke="#a0a0a0" stroke-width="1.3"/></svg>
<div style="position:absolute;left:150.9px;top:525.3px;width:135.3px;height:1px;background:#dcdcdc"></div>
<svg style="position:absolute;left:271.80000000000007px;top:513.35px" width="10.8" height="10.8" viewBox="0 0 10.5 10.5"><rect x="0.6" y="0.6" width="9.3" height="9.3" rx="1.4" fill="#fff" stroke="#a0a0a0" stroke-width="1.3"/></svg>
<div style="position:absolute;left:150.9px;top:539.2px;width:135.3px;height:1px;background:#dcdcdc"></div>
<svg style="position:absolute;left:271.80000000000007px;top:527.35px" width="10.8" height="10.8" viewBox="0 0 10.5 10.5"><rect x="0.6" y="0.6" width="9.3" height="9.3" rx="1.4" fill="#fff" stroke="#a0a0a0" stroke-width="1.3"/></svg>
<svg style="position:absolute;left:271.80000000000007px;top:541.95px" width="10.8" height="10.8" viewBox="0 0 10.5 10.5"><rect x="0.6" y="0.6" width="9.3" height="9.3" rx="1.4" fill="#fff" stroke="#a0a0a0" stroke-width="1.3"/></svg>
<div style="position:absolute;left:150.9px;top:555px;width:135.3px;height:27.8px;background:#93c47d"></div>
<div style="position:absolute;left:150.9px;top:555px;width:97.2718934911243px;height:14px;line-height:14px;text-align:center;white-space:nowrap;font-size:9px;color:#fff;text-shadow:0 0 0.4px rgba(255,255,255,0.6)">Completed</div>
<div style="position:absolute;left:150.9px;top:569px;width:97.2718934911243px;height:14px;line-height:14px;text-align:center;white-space:nowrap;font-size:9px;color:#fff;text-shadow:0 0 0.4px rgba(255,255,255,0.6)">Not Completed</div>
<div style="position:absolute;left:248.1718934911243px;top:555px;width:38.02810650887574px;height:14px;line-height:14px;text-align:center;white-space:nowrap;font-size:9px;color:#fff;text-shadow:0 0 0.4px rgba(255,255,255,0.6)">6</div>
<div style="position:absolute;left:248.1718934911243px;top:569px;width:38.02810650887574px;height:14px;line-height:14px;text-align:center;white-space:nowrap;font-size:9px;color:#fff;text-shadow:0 0 0.4px rgba(255,255,255,0.6)">1</div>
<div style="position:absolute;left:293.7px;top:164px;width:139.1px;height:158px;background:#fff"></div>
<div style="position:absolute;left:295.5px;top:166px;width:135.5px;height:54.7px;background:#93c47d"></div>
<div style="position:absolute;left:295.5px;top:171px;width:135.5px;height:18px;line-height:18px;text-align:center;white-space:nowrap;font-weight:bold;font-size:13.4px;color:#fff;text-shadow:0 0 0.4px rgba(255,255,255,0.6)">Tuesday</div>
<div style="position:absolute;left:295.5px;top:200.7px;width:135.5px;height:14px;line-height:14px;text-align:center;white-space:nowrap;font-weight:bold;font-size:9px;color:#fff">04.11.2025</div>
<svg style="position:absolute;left:315.90000000000003px;top:225.2px" width="93.4" height="93.4" viewBox="0 0 93.4 93.4"><circle cx="46.7" cy="46.7" r="39.85" fill="none" stroke="#d9ead3" stroke-width="13.700000000000003"/><circle cx="46.7" cy="46.7" r="39.85" fill="none" stroke="#93c47d" stroke-width="13.700000000000003" stroke-dasharray="200.308 250.385" transform="rotate(-90 46.7 46.7)"/></svg>
<div style="position:absolute;left:323.25px;top:262px;width:80px;height:20px;line-height:20px;text-align:center;white-space:nowrap;font-size:16px;color:#555;transform:scaleX(0.95)">80%</div>
<div style="position:absolute;left:293.7px;top:325.5px;width:139.1px;height:259px;background:#fff"></div>
<div style="position:absolute;left:295.5px;top:328px;width:135.5px;height:14px;background:#93c47d"></div>
<div style="position:absolute;left:295.5px;top:328px;width:135.5px;height:14px;line-height:14px;text-align:center;white-space:nowrap;font-weight:bold;font-size:9px;color:#fff;text-shadow:0 0 0.4px rgba(255,255,255,0.6)">Tasks</div>
<div style="position:absolute;left:295.5px;top:342px;width:135.5px;height:14.300000000000011px;background:#d9ead3"></div>
<div style="position:absolute;left:295.5px;top:355.8px;width:135.5px;height:1px;background:#cdd6ca"></div>
<div style="position:absolute;left:298.5px;top:342.8px;width:113.30000000000001px;height:14.300000000000011px;line-height:14.300000000000011px;white-space:nowrap;overflow:hidden;font-size:8px;color:#808080;text-decoration:line-through">Hire a personal trainer</div>
<svg style="position:absolute;left:416.6px;top:343.75px" width="10.8" height="10.8" viewBox="0 0 10.5 10.5"><rect x="0" y="0" width="10.5" height="10.5" rx="1.6" fill="#8c8c8c"/><path d="M2 5.3 L4.3 7.5 L8.8 2.6" fill="none" stroke="#fff" stroke-width="1.3"/></svg>
<div style="position:absolute;left:295.5px;top:356.3px;width:135.5px;height:14.099999999999966px;background:#d9ead3"></div>
<div style="position:absolute;left:295.5px;top:369.9px;width:135.5px;height:1px;background:#cdd6ca"></div>
<div style="position:absolute;left:298.5px;top:357.1px;width:113.30000000000001px;height:14.099999999999966px;line-height:14.099999999999966px;white-space:nowrap;overflow:hidden;font-size:8px;color:#808080;text-decoration:line-through">Buy groceries for the week</div>
<svg style="position:absolute;left:416.6px;top:357.95000000000005px" width="10.8" height="10.8" viewBox="0 0 10.5 10.5"><rect x="0" y="0" width="10.5" height="10.5" rx="1.6" fill="#8c8c8c"/><path d="M2 5.3 L4.3 7.5 L8.8 2.6" fill="none" stroke="#fff" stroke-width="1.3"/></svg>
<div style="position:absolute;left:295.5px;top:370.4px;width:135.5px;height:14.200000000000045px;background:#d9ead3"></div>
<div style="position:absolute;left:295.5px;top:384.1px;width:135.5px;height:1px;background:#cdd6ca"></div>
<div style="position:absolute;left:298.5px;top:371.2px;width:113.30000000000001px;height:14.200000000000045px;line-height:14.200000000000045px;white-space:nowrap;overflow:hidden;font-size:8px;color:#808080;text-decoration:line-through">Deep clean the apartment</div>
<svg style="position:absolute;left:416.6px;top:372.1px" width="10.8" height="10.8" viewBox="0 0 10.5 10.5"><rect x="0" y="0" width="10.5" height="10.5" rx="1.6" fill="#8c8c8c"/><path d="M2 5.3 L4.3 7.5 L8.8 2.6" fill="none" stroke="#fff" stroke-width="1.3"/></svg>
<div style="position:absolute;left:295.5px;top:384.6px;width:135.5px;height:14.149999999999977px;background:#d9ead3"></div>
<div style="position:absolute;left:295.5px;top:398.25px;width:135.5px;height:1px;background:#cdd6ca"></div>
<div style="position:absolute;left:298.5px;top:385.40000000000003px;width:113.30000000000001px;height:14.149999999999977px;line-height:14.149999999999977px;white-space:nowrap;overflow:hidden;font-size:8px;color:#808080;text-decoration:line-through">Doctor's appointment</div>
<svg style="position:absolute;left:416.6px;top:386.27500000000003px" width="10.8" height="10.8" viewBox="0 0 10.5 10.5"><rect x="0" y="0" width="10.5" height="10.5" rx="1.6" fill="#8c8c8c"/><path d="M2 5.3 L4.3 7.5 L8.8 2.6" fill="none" stroke="#fff" stroke-width="1.3"/></svg>
<div style="position:absolute;left:295.5px;top:412.7px;width:135.5px;height:1px;background:#dcdcdc"></div>
<div style="position:absolute;left:298.5px;top:399.55px;width:113.30000000000001px;height:14.449999999999989px;line-height:14.449999999999989px;white-space:nowrap;overflow:hidden;font-size:8px;color:#222;text-shadow:0 0 0.4px rgba(0,0,0,0.6)">Buy vitamins</div>
<svg style="position:absolute;left:416.6px;top:400.57500000000005px" width="10.8" height="10.8" viewBox="0 0 10.5 10.5"><rect x="0.6" y="0.6" width="9.3" height="9.3" rx="1.4" fill="#fff" stroke="#a3cc8c" stroke-width="1.3"/></svg>
<div style="position:absolute;left:295.5px;top:426.9px;width:135.5px;height:1px;background:#dcdcdc"></div>
<svg style="position:absolute;left:416.6px;top:414.9px" width="10.8" height="10.8" viewBox="0 0 10.5 10.5"><rect x="0.6" y="0.6" width="9.3" height="9.3" rx="1.4" fill="#fff" stroke="#a0a0a0" stroke-width="1.3"/></svg>
<div style="position:absolute;left:295.5px;top:441.0px;width:135.5px;height:1px;background:#dcdcdc"></div>
<svg style="position:absolute;left:416.6px;top:429.05px" width="10.8" height="10.8" viewBox="0 0 10.5 10.5"><rect x="0.6" y="0.6" width="9.3" height="9.3" rx="1.4" fill="#fff" stroke="#a0a0a0" stroke-width="1.3"/></svg>
<div style="position:absolute;left:295.5px;top:455.1px;width:135.5px;height:1px;background:#dcdcdc"></div>
<svg style="position:absolute;left:416.6px;top:443.15000000000003px" width="10.8" height="10.8" viewBox="0 0 10.5 10.5"><rect x="0.6" y="0.6" width="9.3" height="9.3" rx="1.4" fill="#fff" stroke="#a0a0a0" stroke-width="1.3"/></svg>
<div style="position:absolute;left:295.5px;top:468.8px;width:135.5px;height:1px;background:#dcdcdc"></div>
<svg style="position:absolute;left:416.6px;top:457.05000000000007px" width="10.8" height="10.8" viewBox="0 0 10.5 10.5"><rect x="0.6" y="0.6" width="9.3" height="9.3" rx="1.4" fill="#fff" stroke="#a0a0a0" stroke-width="1.3"/></svg>
<div style="position:absolute;left:295.5px;top:482.9px;width:135.5px;height:1px;background:#dcdcdc"></div>
<svg style="position:absolute;left:416.6px;top:470.95000000000005px" width="10.8" height="10.8" viewBox="0 0 10.5 10.5"><rect x="0.6" y="0.6" width="9.3" height="9.3" rx="1.4" fill="#fff" stroke="#a0a0a0" stroke-width="1.3"/></svg>
<div style="position:absolute;left:295.5px;top:497.1px;width:135.5px;height:1px;background:#dcdcdc"></div>
<svg style="position:absolute;left:416.6px;top:485.1px" width="10.8" height="10.8" viewBox="0 0 10.5 10.5"><rect x="0.6" y="0.6" width="9.3" height="9.3" rx="1.4" fill="#fff" stroke="#a0a0a0" stroke-width="1.3"/></svg>
<div style="position:absolute;left:295.5px;top:511.2px;width:135.5px;height:1px;background:#dcdcdc"></div>
<svg style="position:absolute;left:416.6px;top:499.25px" width="10.8" height="10.8" viewBox="0 0 10.5 10.5"><rect x="0.6" y="0.6" width="9.3" height="9.3" rx="1.4" fill="#fff" stroke="#a0a0a0" stroke-width="1.3"/></svg>
<div style="position:absolute;left:295.5px;top:525.3px;width:135.5px;height:1px;background:#dcdcdc"></div>
<svg style="position:absolute;left:416.6px;top:513.35px" width="10.8" height="10.8" viewBox="0 0 10.5 10.5"><rect x="0.6" y="0.6" width="9.3" height="9.3" rx="1.4" fill="#fff" stroke="#a0a0a0" stroke-width="1.3"/></svg>
<div style="position:absolute;left:295.5px;top:539.2px;width:135.5px;height:1px;background:#dcdcdc"></div>
<svg style="position:absolute;left:416.6px;top:527.35px" width="10.8" height="10.8" viewBox="0 0 10.5 10.5"><rect x="0.6" y="0.6" width="9.3" height="9.3" rx="1.4" fill="#fff" stroke="#a0a0a0" stroke-width="1.3"/></svg>
<svg style="position:absolute;left:416.6px;top:541.95px" width="10.8" height="10.8" viewBox="0 0 10.5 10.5"><rect x="0.6" y="0.6" width="9.3" height="9.3" rx="1.4" fill="#fff" stroke="#a0a0a0" stroke-width="1.3"/></svg>
<div style="position:absolute;left:295.5px;top:555px;width:135.5px;height:27.8px;background:#93c47d"></div>
<div style="position:absolute;left:295.5px;top:555px;width:97.41568047337279px;height:14px;line-height:14px;text-align:center;white-space:nowrap;font-size:9px;color:#fff;text-shadow:0 0 0.4px rgba(255,255,255,0.6)">Completed</div>
<div style="position:absolute;left:295.5px;top:569px;width:97.41568047337279px;height:14px;line-height:14px;text-align:center;white-space:nowrap;font-size:9px;color:#fff;text-shadow:0 0 0.4px rgba(255,255,255,0.6)">Not Completed</div>
<div style="position:absolute;left:392.9156804733728px;top:555px;width:38.08431952662721px;height:14px;line-height:14px;text-align:center;white-space:nowrap;font-size:9px;color:#fff;text-shadow:0 0 0.4px rgba(255,255,255,0.6)">4</div>
<div style="position:absolute;left:392.9156804733728px;top:569px;width:38.08431952662721px;height:14px;line-height:14px;text-align:center;white-space:nowrap;font-size:9px;color:#fff;text-shadow:0 0 0.4px rgba(255,255,255,0.6)">1</div>
<div style="position:absolute;left:439px;top:164px;width:138.2px;height:158px;background:#fff"></div>
<div style="position:absolute;left:440.8px;top:166px;width:134.6px;height:54.7px;background:#93c47d"></div>
<div style="position:absolute;left:440.8px;top:171px;width:134.6px;height:18px;line-height:18px;text-align:center;white-space:nowrap;font-weight:bold;font-size:13.4px;color:#fff;text-shadow:0 0 0.4px rgba(255,255,255,0.6)">Wednesday</div>
<div style="position:absolute;left:440.8px;top:200.7px;width:134.6px;height:14px;line-height:14px;text-align:center;white-space:nowrap;font-weight:bold;font-size:9px;color:#fff">05.11.2025</div>
<svg style="position:absolute;left:459.90000000000003px;top:225.2px" width="93.4" height="93.4" viewBox="0 0 93.4 93.4"><circle cx="46.7" cy="46.7" r="39.85" fill="none" stroke="#d9ead3" stroke-width="13.700000000000003"/><circle cx="46.7" cy="46.7" r="39.85" fill="none" stroke="#93c47d" stroke-width="13.700000000000003" stroke-dasharray="150.231 250.385" transform="rotate(-90 46.7 46.7)"/></svg>
<div style="position:absolute;left:468.1px;top:262px;width:80px;height:20px;line-height:20px;text-align:center;white-space:nowrap;font-size:16px;color:#555;transform:scaleX(0.95)">60%</div>
<div style="position:absolute;left:439px;top:325.5px;width:138.2px;height:259px;background:#fff"></div>
<div style="position:absolute;left:440.8px;top:328px;width:134.6px;height:14px;background:#93c47d"></div>
<div style="position:absolute;left:440.8px;top:328px;width:134.6px;height:14px;line-height:14px;text-align:center;white-space:nowrap;font-weight:bold;font-size:9px;color:#fff;text-shadow:0 0 0.4px rgba(255,255,255,0.6)">Tasks</div>
<div style="position:absolute;left:440.8px;top:342px;width:134.6px;height:14.300000000000011px;background:#d9ead3"></div>
<div style="position:absolute;left:440.8px;top:355.8px;width:134.6px;height:1px;background:#cdd6ca"></div>
<div style="position:absolute;left:443.8px;top:342.8px;width:112.39999999999992px;height:14.300000000000011px;line-height:14.300000000000011px;white-space:nowrap;overflow:hidden;font-size:8px;color:#808080;text-decoration:line-through">Film content for the new project</div>
<svg style="position:absolute;left:561.0px;top:343.75px" width="10.8" height="10.8" viewBox="0 0 10.5 10.5"><rect x="0" y="0" width="10.5" height="10.5" rx="1.6" fill="#8c8c8c"/><path d="M2 5.3 L4.3 7.5 L8.8 2.6" fill="none" stroke="#fff" stroke-width="1.3"/></svg>
<div style="position:absolute;left:440.8px;top:356.3px;width:134.6px;height:14.099999999999966px;background:#d9ead3"></div>
<div style="position:absolute;left:440.8px;top:369.9px;width:134.6px;height:1px;background:#cdd6ca"></div>
<div style="position:absolute;left:443.8px;top:357.1px;width:112.39999999999992px;height:14.099999999999966px;line-height:14.099999999999966px;white-space:nowrap;overflow:hidden;font-size:8px;color:#808080;text-decoration:line-through">Water the plants</div>
<svg style="position:absolute;left:561.0px;top:357.95000000000005px" width="10.8" height="10.8" viewBox="0 0 10.5 10.5"><rect x="0" y="0" width="10.5" height="10.5" rx="1.6" fill="#8c8c8c"/><path d="M2 5.3 L4.3 7.5 L8.8 2.6" fill="none" stroke="#fff" stroke-width="1.3"/></svg>
<div style="position:absolute;left:440.8px;top:370.4px;width:134.6px;height:14.200000000000045px;background:#d9ead3"></div>
<div style="position:absolute;left:440.8px;top:384.1px;width:134.6px;height:1px;background:#cdd6ca"></div>
<div style="position:absolute;left:443.8px;top:371.2px;width:112.39999999999992px;height:14.200000000000045px;line-height:14.200000000000045px;white-space:nowrap;overflow:hidden;font-size:8px;color:#808080;text-decoration:line-through">Meet up with friends</div>
<svg style="position:absolute;left:561.0px;top:372.1px" width="10.8" height="10.8" viewBox="0 0 10.5 10.5"><rect x="0" y="0" width="10.5" height="10.5" rx="1.6" fill="#8c8c8c"/><path d="M2 5.3 L4.3 7.5 L8.8 2.6" fill="none" stroke="#fff" stroke-width="1.3"/></svg>
<div style="position:absolute;left:440.8px;top:398.25px;width:134.6px;height:1px;background:#dcdcdc"></div>
<div style="position:absolute;left:443.8px;top:385.40000000000003px;width:112.39999999999992px;height:14.149999999999977px;line-height:14.149999999999977px;white-space:nowrap;overflow:hidden;font-size:8px;color:#222;text-shadow:0 0 0.4px rgba(0,0,0,0.6)">Redesign the website</div>
<svg style="position:absolute;left:561.0px;top:386.27500000000003px" width="10.8" height="10.8" viewBox="0 0 10.5 10.5"><rect x="0.6" y="0.6" width="9.3" height="9.3" rx="1.4" fill="#fff" stroke="#a3cc8c" stroke-width="1.3"/></svg>
<div style="position:absolute;left:440.8px;top:412.7px;width:134.6px;height:1px;background:#dcdcdc"></div>
<div style="position:absolute;left:443.8px;top:399.55px;width:112.39999999999992px;height:14.449999999999989px;line-height:14.449999999999989px;white-space:nowrap;overflow:hidden;font-size:8px;color:#222;text-shadow:0 0 0.4px rgba(0,0,0,0.6)">Grocery shopping</div>
<svg style="position:absolute;left:561.0px;top:400.57500000000005px" width="10.8" height="10.8" viewBox="0 0 10.5 10.5"><rect x="0.6" y="0.6" width="9.3" height="9.3" rx="1.4" fill="#fff" stroke="#a3cc8c" stroke-width="1.3"/></svg>
<div style="position:absolute;left:440.8px;top:426.9px;width:134.6px;height:1px;background:#dcdcdc"></div>
<svg style="position:absolute;left:561.0px;top:414.9px" width="10.8" height="10.8" viewBox="0 0 10.5 10.5"><rect x="0.6" y="0.6" width="9.3" height="9.3" rx="1.4" fill="#fff" stroke="#a0a0a0" stroke-width="1.3"/></svg>
<div style="position:absolute;left:440.8px;top:441.0px;width:134.6px;height:1px;background:#dcdcdc"></div>
<svg style="position:absolute;left:561.0px;top:429.05px" width="10.8" height="10.8" viewBox="0 0 10.5 10.5"><rect x="0.6" y="0.6" width="9.3" height="9.3" rx="1.4" fill="#fff" stroke="#a0a0a0" stroke-width="1.3"/></svg>
<div style="position:absolute;left:440.8px;top:455.1px;width:134.6px;height:1px;background:#dcdcdc"></div>
<svg style="position:absolute;left:561.0px;top:443.15000000000003px" width="10.8" height="10.8" viewBox="0 0 10.5 10.5"><rect x="0.6" y="0.6" width="9.3" height="9.3" rx="1.4" fill="#fff" stroke="#a0a0a0" stroke-width="1.3"/></svg>
<div style="position:absolute;left:440.8px;top:468.8px;width:134.6px;height:1px;background:#dcdcdc"></div>
<svg style="position:absolute;left:561.0px;top:457.05000000000007px" width="10.8" height="10.8" viewBox="0 0 10.5 10.5"><rect x="0.6" y="0.6" width="9.3" height="9.3" rx="1.4" fill="#fff" stroke="#a0a0a0" stroke-width="1.3"/></svg>
<div style="position:absolute;left:440.8px;top:482.9px;width:134.6px;height:1px;background:#dcdcdc"></div>
<svg style="position:absolute;left:561.0px;top:470.95000000000005px" width="10.8" height="10.8" viewBox="0 0 10.5 10.5"><rect x="0.6" y="0.6" width="9.3" height="9.3" rx="1.4" fill="#fff" stroke="#a0a0a0" stroke-width="1.3"/></svg>
<div style="position:absolute;left:440.8px;top:497.1px;width:134.6px;height:1px;background:#dcdcdc"></div>
<svg style="position:absolute;left:561.0px;top:485.1px" width="10.8" height="10.8" viewBox="0 0 10.5 10.5"><rect x="0.6" y="0.6" width="9.3" height="9.3" rx="1.4" fill="#fff" stroke="#a0a0a0" stroke-width="1.3"/></svg>
<div style="position:absolute;left:440.8px;top:511.2px;width:134.6px;height:1px;background:#dcdcdc"></div>
<svg style="position:absolute;left:561.0px;top:499.25px" width="10.8" height="10.8" viewBox="0 0 10.5 10.5"><rect x="0.6" y="0.6" width="9.3" height="9.3" rx="1.4" fill="#fff" stroke="#a0a0a0" stroke-width="1.3"/></svg>
<div style="position:absolute;left:440.8px;top:525.3px;width:134.6px;height:1px;background:#dcdcdc"></div>
<svg style="position:absolute;left:561.0px;top:513.35px" width="10.8" height="10.8" viewBox="0 0 10.5 10.5"><rect x="0.6" y="0.6" width="9.3" height="9.3" rx="1.4" fill="#fff" stroke="#a0a0a0" stroke-width="1.3"/></svg>
<div style="position:absolute;left:440.8px;top:539.2px;width:134.6px;height:1px;background:#dcdcdc"></div>
<svg style="position:absolute;left:561.0px;top:527.35px" width="10.8" height="10.8" viewBox="0 0 10.5 10.5"><rect x="0.6" y="0.6" width="9.3" height="9.3" rx="1.4" fill="#fff" stroke="#a0a0a0" stroke-width="1.3"/></svg>
<svg style="position:absolute;left:561.0px;top:541.95px" width="10.8" height="10.8" viewBox="0 0 10.5 10.5"><rect x="0.6" y="0.6" width="9.3" height="9.3" rx="1.4" fill="#fff" stroke="#a0a0a0" stroke-width="1.3"/></svg>
<div style="position:absolute;left:440.8px;top:555px;width:134.6px;height:27.8px;background:#93c47d"></div>
<div style="position:absolute;left:440.8px;top:555px;width:96.76863905325439px;height:14px;line-height:14px;text-align:center;white-space:nowrap;font-size:9px;color:#fff;text-shadow:0 0 0.4px rgba(255,255,255,0.6)">Completed</div>
<div style="position:absolute;left:440.8px;top:569px;width:96.76863905325439px;height:14px;line-height:14px;text-align:center;white-space:nowrap;font-size:9px;color:#fff;text-shadow:0 0 0.4px rgba(255,255,255,0.6)">Not Completed</div>
<div style="position:absolute;left:537.5686390532544px;top:555px;width:37.831360946745576px;height:14px;line-height:14px;text-align:center;white-space:nowrap;font-size:9px;color:#fff;text-shadow:0 0 0.4px rgba(255,255,255,0.6)">3</div>
<div style="position:absolute;left:537.5686390532544px;top:569px;width:37.831360946745576px;height:14px;line-height:14px;text-align:center;white-space:nowrap;font-size:9px;color:#fff;text-shadow:0 0 0.4px rgba(255,255,255,0.6)">2</div>
<div style="position:absolute;left:583.3px;top:164px;width:138.6px;height:158px;background:#fff"></div>
<div style="position:absolute;left:585.0999999999999px;top:166px;width:135.0px;height:54.7px;background:#93c47d"></div>
<div style="position:absolute;left:585.0999999999999px;top:171px;width:135.0px;height:18px;line-height:18px;text-align:center;white-space:nowrap;font-weight:bold;font-size:13.4px;color:#fff;text-shadow:0 0 0.4px rgba(255,255,255,0.6)">Thursday</div>
<div style="position:absolute;left:585.0999999999999px;top:200.7px;width:135.0px;height:14px;line-height:14px;text-align:center;white-space:nowrap;font-weight:bold;font-size:9px;color:#fff">06.11.2025</div>
<svg style="position:absolute;left:603.8px;top:225.2px" width="93.4" height="93.4" viewBox="0 0 93.4 93.4"><circle cx="46.7" cy="46.7" r="39.85" fill="none" stroke="#d9ead3" stroke-width="13.700000000000003"/><circle cx="46.7" cy="46.7" r="39.85" fill="none" stroke="#93c47d" stroke-width="13.700000000000003" stroke-dasharray="41.731 250.385" transform="rotate(-90 46.7 46.7)"/></svg>
<div style="position:absolute;left:612.5999999999999px;top:262px;width:80px;height:20px;line-height:20px;text-align:center;white-space:nowrap;font-size:16px;color:#555;transform:scaleX(0.95)">17%</div>
<div style="position:absolute;left:583.3px;top:325.5px;width:138.6px;height:259px;background:#fff"></div>
<div style="position:absolute;left:585.0999999999999px;top:328px;width:135.0px;height:14px;background:#93c47d"></div>
<div style="position:absolute;left:585.0999999999999px;top:328px;width:135.0px;height:14px;line-height:14px;text-align:center;white-space:nowrap;font-weight:bold;font-size:9px;color:#fff;text-shadow:0 0 0.4px rgba(255,255,255,0.6)">Tasks</div>
<div style="position:absolute;left:585.0999999999999px;top:342px;width:135.0px;height:14.300000000000011px;background:#d9ead3"></div>
<div style="position:absolute;left:585.0999999999999px;top:355.8px;width:135.0px;height:1px;background:#cdd6ca"></div>
<div style="position:absolute;left:588.0999999999999px;top:342.8px;width:112.79999999999995px;height:14.300000000000011px;line-height:14.300000000000011px;white-space:nowrap;overflow:hidden;font-size:8px;color:#808080;text-decoration:line-through">Check email</div>
<svg style="position:absolute;left:705.6999999999999px;top:343.75px" width="10.8" height="10.8" viewBox="0 0 10.5 10.5"><rect x="0" y="0" width="10.5" height="10.5" rx="1.6" fill="#8c8c8c"/><path d="M2 5.3 L4.3 7.5 L8.8 2.6" fill="none" stroke="#fff" stroke-width="1.3"/></svg>
<div style="position:absolute;left:585.0999999999999px;top:369.9px;width:135.0px;height:1px;background:#dcdcdc"></div>
<div style="position:absolute;left:588.0999999999999px;top:357.1px;width:112.79999999999995px;height:14.099999999999966px;line-height:14.099999999999966px;white-space:nowrap;overflow:hidden;font-size:8px;color:#222;text-shadow:0 0 0.4px rgba(0,0,0,0.6)">Reply to urgent matters</div>
<svg style="position:absolute;left:705.6999999999999px;top:357.95000000000005px" width="10.8" height="10.8" viewBox="0 0 10.5 10.5"><rect x="0.6" y="0.6" width="9.3" height="9.3" rx="1.4" fill="#fff" stroke="#a3cc8c" stroke-width="1.3"/></svg>
<div style="position:absolute;left:585.0999999999999px;top:384.1px;width:135.0px;height:1px;background:#dcdcdc"></div>
<div style="position:absolute;left:588.0999999999999px;top:371.2px;width:112.79999999999995px;height:14.200000000000045px;line-height:14.200000000000045px;white-space:nowrap;overflow:hidden;font-size:8px;color:#222;text-shadow:0 0 0.4px rgba(0,0,0,0.6)">Review financial report</div>
<svg style="position:absolute;left:705.6999999999999px;top:372.1px" width="10.8" height="10.8" viewBox="0 0 10.5 10.5"><rect x="0.6" y="0.6" width="9.3" height="9.3" rx="1.4" fill="#fff" stroke="#a3cc8c" stroke-width="1.3"/></svg>
<div style="position:absolute;left:585.0999999999999px;top:398.25px;width:135.0px;height:1px;background:#dcdcdc"></div>
<div style="position:absolute;left:588.0999999999999px;top:385.40000000000003px;width:112.79999999999995px;height:14.149999999999977px;line-height:14.149999999999977px;white-space:nowrap;overflow:hidden;font-size:8px;color:#222;text-shadow:0 0 0.4px rgba(0,0,0,0.6)">Team meeting</div>
<svg style="position:absolute;left:705.6999999999999px;top:386.27500000000003px" width="10.8" height="10.8" viewBox="0 0 10.5 10.5"><rect x="0.6" y="0.6" width="9.3" height="9.3" rx="1.4" fill="#fff" stroke="#a3cc8c" stroke-width="1.3"/></svg>
<div style="position:absolute;left:585.0999999999999px;top:412.7px;width:135.0px;height:1px;background:#dcdcdc"></div>
<div style="position:absolute;left:588.0999999999999px;top:399.55px;width:112.79999999999995px;height:14.449999999999989px;line-height:14.449999999999989px;white-space:nowrap;overflow:hidden;font-size:8px;color:#222;text-shadow:0 0 0.4px rgba(0,0,0,0.6)">Reconcile expenses and payments</div>
<svg style="position:absolute;left:705.6999999999999px;top:400.57500000000005px" width="10.8" height="10.8" viewBox="0 0 10.5 10.5"><rect x="0.6" y="0.6" width="9.3" height="9.3" rx="1.4" fill="#fff" stroke="#a3cc8c" stroke-width="1.3"/></svg>
<div style="position:absolute;left:585.0999999999999px;top:426.9px;width:135.0px;height:1px;background:#dcdcdc"></div>
<div style="position:absolute;left:588.0999999999999px;top:414.0px;width:112.79999999999995px;height:14.199999999999989px;line-height:14.199999999999989px;white-space:nowrap;overflow:hidden;font-size:8px;color:#222;text-shadow:0 0 0.4px rgba(0,0,0,0.6)">Check sales metrics</div>
<svg style="position:absolute;left:705.6999999999999px;top:414.9px" width="10.8" height="10.8" viewBox="0 0 10.5 10.5"><rect x="0.6" y="0.6" width="9.3" height="9.3" rx="1.4" fill="#fff" stroke="#a3cc8c" stroke-width="1.3"/></svg>
<div style="position:absolute;left:585.0999999999999px;top:441.0px;width:135.0px;height:1px;background:#dcdcdc"></div>
<svg style="position:absolute;left:705.6999999999999px;top:429.05px" width="10.8" height="10.8" viewBox="0 0 10.5 10.5"><rect x="0.6" y="0.6" width="9.3" height="9.3" rx="1.4" fill="#fff" stroke="#a0a0a0" stroke-width="1.3"/></svg>
<div style="position:absolute;left:585.0999999999999px;top:455.1px;width:135.0px;height:1px;background:#dcdcdc"></div>
<svg style="position:absolute;left:705.6999999999999px;top:443.15000000000003px" width="10.8" height="10.8" viewBox="0 0 10.5 10.5"><rect x="0.6" y="0.6" width="9.3" height="9.3" rx="1.4" fill="#fff" stroke="#a0a0a0" stroke-width="1.3"/></svg>
<div style="position:absolute;left:585.0999999999999px;top:468.8px;width:135.0px;height:1px;background:#dcdcdc"></div>
<svg style="position:absolute;left:705.6999999999999px;top:457.05000000000007px" width="10.8" height="10.8" viewBox="0 0 10.5 10.5"><rect x="0.6" y="0.6" width="9.3" height="9.3" rx="1.4" fill="#fff" stroke="#a0a0a0" stroke-width="1.3"/></svg>
<div style="position:absolute;left:585.0999999999999px;top:482.9px;width:135.0px;height:1px;background:#dcdcdc"></div>
<svg style="position:absolute;left:705.6999999999999px;top:470.95000000000005px" width="10.8" height="10.8" viewBox="0 0 10.5 10.5"><rect x="0.6" y="0.6" width="9.3" height="9.3" rx="1.4" fill="#fff" stroke="#a0a0a0" stroke-width="1.3"/></svg>
<div style="position:absolute;left:585.0999999999999px;top:497.1px;width:135.0px;height:1px;background:#dcdcdc"></div>
<svg style="position:absolute;left:705.6999999999999px;top:485.1px" width="10.8" height="10.8" viewBox="0 0 10.5 10.5"><rect x="0.6" y="0.6" width="9.3" height="9.3" rx="1.4" fill="#fff" stroke="#a0a0a0" stroke-width="1.3"/></svg>
<div style="position:absolute;left:585.0999999999999px;top:511.2px;width:135.0px;height:1px;background:#dcdcdc"></div>
<svg style="position:absolute;left:705.6999999999999px;top:499.25px" width="10.8" height="10.8" viewBox="0 0 10.5 10.5"><rect x="0.6" y="0.6" width="9.3" height="9.3" rx="1.4" fill="#fff" stroke="#a0a0a0" stroke-width="1.3"/></svg>
<div style="position:absolute;left:585.0999999999999px;top:525.3px;width:135.0px;height:1px;background:#dcdcdc"></div>
<svg style="position:absolute;left:705.6999999999999px;top:513.35px" width="10.8" height="10.8" viewBox="0 0 10.5 10.5"><rect x="0.6" y="0.6" width="9.3" height="9.3" rx="1.4" fill="#fff" stroke="#a0a0a0" stroke-width="1.3"/></svg>
<div style="position:absolute;left:585.0999999999999px;top:539.2px;width:135.0px;height:1px;background:#dcdcdc"></div>
<svg style="position:absolute;left:705.6999999999999px;top:527.35px" width="10.8" height="10.8" viewBox="0 0 10.5 10.5"><rect x="0.6" y="0.6" width="9.3" height="9.3" rx="1.4" fill="#fff" stroke="#a0a0a0" stroke-width="1.3"/></svg>
<svg style="position:absolute;left:705.6999999999999px;top:541.95px" width="10.8" height="10.8" viewBox="0 0 10.5 10.5"><rect x="0.6" y="0.6" width="9.3" height="9.3" rx="1.4" fill="#fff" stroke="#a0a0a0" stroke-width="1.3"/></svg>
<div style="position:absolute;left:585.0999999999999px;top:555px;width:135.0px;height:27.8px;background:#93c47d"></div>
<div style="position:absolute;left:585.0999999999999px;top:555px;width:97.05621301775147px;height:14px;line-height:14px;text-align:center;white-space:nowrap;font-size:9px;color:#fff;text-shadow:0 0 0.4px rgba(255,255,255,0.6)">Completed</div>
<div style="position:absolute;left:585.0999999999999px;top:569px;width:97.05621301775147px;height:14px;line-height:14px;text-align:center;white-space:nowrap;font-size:9px;color:#fff;text-shadow:0 0 0.4px rgba(255,255,255,0.6)">Not Completed</div>
<div style="position:absolute;left:682.1562130177514px;top:555px;width:37.943786982248525px;height:14px;line-height:14px;text-align:center;white-space:nowrap;font-size:9px;color:#fff;text-shadow:0 0 0.4px rgba(255,255,255,0.6)">1</div>
<div style="position:absolute;left:682.1562130177514px;top:569px;width:37.943786982248525px;height:14px;line-height:14px;text-align:center;white-space:nowrap;font-size:9px;color:#fff;text-shadow:0 0 0.4px rgba(255,255,255,0.6)">5</div>
<div style="position:absolute;left:728px;top:164px;width:147.7px;height:158px;background:#fff"></div>
<div style="position:absolute;left:729.8px;top:166px;width:144.1px;height:54.7px;background:#93c47d"></div>
<div style="position:absolute;left:729.8px;top:171px;width:144.1px;height:18px;line-height:18px;text-align:center;white-space:nowrap;font-weight:bold;font-size:13.4px;color:#fff;text-shadow:0 0 0.4px rgba(255,255,255,0.6)">Friday</div>
<div style="position:absolute;left:729.8px;top:200.7px;width:144.1px;height:14px;line-height:14px;text-align:center;white-space:nowrap;font-weight:bold;font-size:9px;color:#fff">07.11.2025</div>
<svg style="position:absolute;left:749.8px;top:225.2px" width="93.4" height="93.4" viewBox="0 0 93.4 93.4"><circle cx="46.7" cy="46.7" r="39.85" fill="none" stroke="#d9ead3" stroke-width="13.700000000000003"/><circle cx="46.7" cy="46.7" r="39.85" fill="none" stroke="#93c47d" stroke-width="13.700000000000003" stroke-dasharray="200.308 250.385" transform="rotate(-90 46.7 46.7)"/></svg>
<div style="position:absolute;left:761.85px;top:262px;width:80px;height:20px;line-height:20px;text-align:center;white-space:nowrap;font-size:16px;color:#555;transform:scaleX(0.95)">80%</div>
<div style="position:absolute;left:728px;top:325.5px;width:147.7px;height:259px;background:#fff"></div>
<div style="position:absolute;left:729.8px;top:328px;width:144.1px;height:14px;background:#93c47d"></div>
<div style="position:absolute;left:729.8px;top:328px;width:144.1px;height:14px;line-height:14px;text-align:center;white-space:nowrap;font-weight:bold;font-size:9px;color:#fff;text-shadow:0 0 0.4px rgba(255,255,255,0.6)">Tasks</div>
<div style="position:absolute;left:729.8px;top:342px;width:144.1px;height:14.300000000000011px;background:#d9ead3"></div>
<div style="position:absolute;left:729.8px;top:355.8px;width:144.1px;height:1px;background:#cdd6ca"></div>
<div style="position:absolute;left:732.8px;top:342.8px;width:120.39999999999998px;height:14.300000000000011px;line-height:14.300000000000011px;white-space:nowrap;overflow:hidden;font-size:8px;color:#808080;text-decoration:line-through">Post about the company on social media</div>
<svg style="position:absolute;left:859.5px;top:343.75px" width="10.8" height="10.8" viewBox="0 0 10.5 10.5"><rect x="0" y="0" width="10.5" height="10.5" rx="1.6" fill="#8c8c8c"/><path d="M2 5.3 L4.3 7.5 L8.8 2.6" fill="none" stroke="#fff" stroke-width="1.3"/></svg>
<div style="position:absolute;left:729.8px;top:356.3px;width:144.1px;height:14.099999999999966px;background:#d9ead3"></div>
<div style="position:absolute;left:729.8px;top:369.9px;width:144.1px;height:1px;background:#cdd6ca"></div>
<div style="position:absolute;left:732.8px;top:357.1px;width:120.39999999999998px;height:14.099999999999966px;line-height:14.099999999999966px;white-space:nowrap;overflow:hidden;font-size:8px;color:#808080;text-decoration:line-through">Update the team's task list</div>
<svg style="position:absolute;left:859.5px;top:357.95000000000005px" width="10.8" height="10.8" viewBox="0 0 10.5 10.5"><rect x="0" y="0" width="10.5" height="10.5" rx="1.6" fill="#8c8c8c"/><path d="M2 5.3 L4.3 7.5 L8.8 2.6" fill="none" stroke="#fff" stroke-width="1.3"/></svg>
<div style="position:absolute;left:729.8px;top:370.4px;width:144.1px;height:14.200000000000045px;background:#d9ead3"></div>
<div style="position:absolute;left:729.8px;top:384.1px;width:144.1px;height:1px;background:#cdd6ca"></div>
<div style="position:absolute;left:732.8px;top:371.2px;width:120.39999999999998px;height:14.200000000000045px;line-height:14.200000000000045px;white-space:nowrap;overflow:hidden;font-size:8px;color:#808080;text-decoration:line-through">Order cleaning services</div>
<svg style="position:absolute;left:859.5px;top:372.1px" width="10.8" height="10.8" viewBox="0 0 10.5 10.5"><rect x="0" y="0" width="10.5" height="10.5" rx="1.6" fill="#8c8c8c"/><path d="M2 5.3 L4.3 7.5 L8.8 2.6" fill="none" stroke="#fff" stroke-width="1.3"/></svg>
<div style="position:absolute;left:729.8px;top:384.6px;width:144.1px;height:14.149999999999977px;background:#d9ead3"></div>
<div style="position:absolute;left:729.8px;top:398.25px;width:144.1px;height:1px;background:#cdd6ca"></div>
<div style="position:absolute;left:732.8px;top:385.40000000000003px;width:120.39999999999998px;height:14.149999999999977px;line-height:14.149999999999977px;white-space:nowrap;overflow:hidden;font-size:8px;color:#808080;text-decoration:line-through">Review tax declarations</div>
<svg style="position:absolute;left:859.5px;top:386.27500000000003px" width="10.8" height="10.8" viewBox="0 0 10.5 10.5"><rect x="0" y="0" width="10.5" height="10.5" rx="1.6" fill="#8c8c8c"/><path d="M2 5.3 L4.3 7.5 L8.8 2.6" fill="none" stroke="#fff" stroke-width="1.3"/></svg>
<div style="position:absolute;left:729.8px;top:412.7px;width:144.1px;height:1px;background:#dcdcdc"></div>
<div style="position:absolute;left:732.8px;top:399.55px;width:120.39999999999998px;height:14.449999999999989px;line-height:14.449999999999989px;white-space:nowrap;overflow:hidden;font-size:8px;color:#222;text-shadow:0 0 0.4px rgba(0,0,0,0.6)">Check mentions</div>
<svg style="position:absolute;left:859.5px;top:400.57500000000005px" width="10.8" height="10.8" viewBox="0 0 10.5 10.5"><rect x="0.6" y="0.6" width="9.3" height="9.3" rx="1.4" fill="#fff" stroke="#a3cc8c" stroke-width="1.3"/></svg>
<div style="position:absolute;left:729.8px;top:426.9px;width:144.1px;height:1px;background:#dcdcdc"></div>
<svg style="position:absolute;left:859.5px;top:414.9px" width="10.8" height="10.8" viewBox="0 0 10.5 10.5"><rect x="0.6" y="0.6" width="9.3" height="9.3" rx="1.4" fill="#fff" stroke="#a0a0a0" stroke-width="1.3"/></svg>
<div style="position:absolute;left:729.8px;top:441.0px;width:144.1px;height:1px;background:#dcdcdc"></div>
<svg style="position:absolute;left:859.5px;top:429.05px" width="10.8" height="10.8" viewBox="0 0 10.5 10.5"><rect x="0.6" y="0.6" width="9.3" height="9.3" rx="1.4" fill="#fff" stroke="#a0a0a0" stroke-width="1.3"/></svg>
<div style="position:absolute;left:729.8px;top:455.1px;width:144.1px;height:1px;background:#dcdcdc"></div>
<svg style="position:absolute;left:859.5px;top:443.15000000000003px" width="10.8" height="10.8" viewBox="0 0 10.5 10.5"><rect x="0.6" y="0.6" width="9.3" height="9.3" rx="1.4" fill="#fff" stroke="#a0a0a0" stroke-width="1.3"/></svg>
<div style="position:absolute;left:729.8px;top:468.8px;width:144.1px;height:1px;background:#dcdcdc"></div>
<svg style="position:absolute;left:859.5px;top:457.05000000000007px" width="10.8" height="10.8" viewBox="0 0 10.5 10.5"><rect x="0.6" y="0.6" width="9.3" height="9.3" rx="1.4" fill="#fff" stroke="#a0a0a0" stroke-width="1.3"/></svg>
<div style="position:absolute;left:729.8px;top:482.9px;width:144.1px;height:1px;background:#dcdcdc"></div>
<svg style="position:absolute;left:859.5px;top:470.95000000000005px" width="10.8" height="10.8" viewBox="0 0 10.5 10.5"><rect x="0.6" y="0.6" width="9.3" height="9.3" rx="1.4" fill="#fff" stroke="#a0a0a0" stroke-width="1.3"/></svg>
<div style="position:absolute;left:729.8px;top:497.1px;width:144.1px;height:1px;background:#dcdcdc"></div>
<svg style="position:absolute;left:859.5px;top:485.1px" width="10.8" height="10.8" viewBox="0 0 10.5 10.5"><rect x="0.6" y="0.6" width="9.3" height="9.3" rx="1.4" fill="#fff" stroke="#a0a0a0" stroke-width="1.3"/></svg>
<div style="position:absolute;left:729.8px;top:511.2px;width:144.1px;height:1px;background:#dcdcdc"></div>
<svg style="position:absolute;left:859.5px;top:499.25px" width="10.8" height="10.8" viewBox="0 0 10.5 10.5"><rect x="0.6" y="0.6" width="9.3" height="9.3" rx="1.4" fill="#fff" stroke="#a0a0a0" stroke-width="1.3"/></svg>
<div style="position:absolute;left:729.8px;top:525.3px;width:144.1px;height:1px;background:#dcdcdc"></div>
<svg style="position:absolute;left:859.5px;top:513.35px" width="10.8" height="10.8" viewBox="0 0 10.5 10.5"><rect x="0.6" y="0.6" width="9.3" height="9.3" rx="1.4" fill="#fff" stroke="#a0a0a0" stroke-width="1.3"/></svg>
<div style="position:absolute;left:729.8px;top:539.2px;width:144.1px;height:1px;background:#dcdcdc"></div>
<svg style="position:absolute;left:859.5px;top:527.35px" width="10.8" height="10.8" viewBox="0 0 10.5 10.5"><rect x="0.6" y="0.6" width="9.3" height="9.3" rx="1.4" fill="#fff" stroke="#a0a0a0" stroke-width="1.3"/></svg>
<svg style="position:absolute;left:859.5px;top:541.95px" width="10.8" height="10.8" viewBox="0 0 10.5 10.5"><rect x="0.6" y="0.6" width="9.3" height="9.3" rx="1.4" fill="#fff" stroke="#a0a0a0" stroke-width="1.3"/></svg>
<div style="position:absolute;left:729.8px;top:555px;width:144.1px;height:27.8px;background:#93c47d"></div>
<div style="position:absolute;left:729.8px;top:555px;width:103.59852071005923px;height:14px;line-height:14px;text-align:center;white-space:nowrap;font-size:9px;color:#fff;text-shadow:0 0 0.4px rgba(255,255,255,0.6)">Completed</div>
<div style="position:absolute;left:729.8px;top:569px;width:103.59852071005923px;height:14px;line-height:14px;text-align:center;white-space:nowrap;font-size:9px;color:#fff;text-shadow:0 0 0.4px rgba(255,255,255,0.6)">Not Completed</div>
<div style="position:absolute;left:833.3985207100592px;top:555px;width:40.50147928994079px;height:14px;line-height:14px;text-align:center;white-space:nowrap;font-size:9px;color:#fff;text-shadow:0 0 0.4px rgba(255,255,255,0.6)">4</div>
<div style="position:absolute;left:833.3985207100592px;top:569px;width:40.50147928994079px;height:14px;line-height:14px;text-align:center;white-space:nowrap;font-size:9px;color:#fff;text-shadow:0 0 0.4px rgba(255,255,255,0.6)">1</div>
<div style="position:absolute;left:881.9px;top:164px;width:138.9px;height:158px;background:#fff"></div>
<div style="position:absolute;left:883.6999999999999px;top:166px;width:135.3px;height:54.7px;background:#93c47d"></div>
<div style="position:absolute;left:883.6999999999999px;top:171px;width:135.3px;height:18px;line-height:18px;text-align:center;white-space:nowrap;font-weight:bold;font-size:13.4px;color:#fff;text-shadow:0 0 0.4px rgba(255,255,255,0.6)">Saturday</div>
<div style="position:absolute;left:883.6999999999999px;top:200.7px;width:135.3px;height:14px;line-height:14px;text-align:center;white-space:nowrap;font-weight:bold;font-size:9px;color:#fff">08.11.2025</div>
<svg style="position:absolute;left:901.8px;top:225.2px" width="93.4" height="93.4" viewBox="0 0 93.4 93.4"><circle cx="46.7" cy="46.7" r="39.85" fill="none" stroke="#d9ead3" stroke-width="13.700000000000003"/><circle cx="46.7" cy="46.7" r="39.85" fill="none" stroke="#93c47d" stroke-width="13.700000000000003" stroke-dasharray="178.846 250.385" transform="rotate(-90 46.7 46.7)"/></svg>
<div style="position:absolute;left:911.35px;top:262px;width:80px;height:20px;line-height:20px;text-align:center;white-space:nowrap;font-size:16px;color:#555;transform:scaleX(0.95)">71%</div>
<div style="position:absolute;left:881.9px;top:325.5px;width:138.9px;height:259px;background:#fff"></div>
<div style="position:absolute;left:883.6999999999999px;top:328px;width:135.3px;height:14px;background:#93c47d"></div>
<div style="position:absolute;left:883.6999999999999px;top:328px;width:135.3px;height:14px;line-height:14px;text-align:center;white-space:nowrap;font-weight:bold;font-size:9px;color:#fff;text-shadow:0 0 0.4px rgba(255,255,255,0.6)">Tasks</div>
<div style="position:absolute;left:883.6999999999999px;top:342px;width:135.3px;height:14.300000000000011px;background:#d9ead3"></div>
<div style="position:absolute;left:883.6999999999999px;top:355.8px;width:135.3px;height:1px;background:#cdd6ca"></div>
<div style="position:absolute;left:886.6999999999999px;top:342.8px;width:113.10000000000002px;height:14.300000000000011px;line-height:14.300000000000011px;white-space:nowrap;overflow:hidden;font-size:8px;color:#808080;text-decoration:line-through">Make edits to the commercial proposal</div>
<svg style="position:absolute;left:1004.6px;top:343.75px" width="10.8" height="10.8" viewBox="0 0 10.5 10.5"><rect x="0" y="0" width="10.5" height="10.5" rx="1.6" fill="#8c8c8c"/><path d="M2 5.3 L4.3 7.5 L8.8 2.6" fill="none" stroke="#fff" stroke-width="1.3"/></svg>
<div style="position:absolute;left:883.6999999999999px;top:356.3px;width:135.3px;height:14.099999999999966px;background:#d9ead3"></div>
<div style="position:absolute;left:883.6999999999999px;top:369.9px;width:135.3px;height:1px;background:#cdd6ca"></div>
<div style="position:absolute;left:886.6999999999999px;top:357.1px;width:113.10000000000002px;height:14.099999999999966px;line-height:14.099999999999966px;white-space:nowrap;overflow:hidden;font-size:8px;color:#808080;text-decoration:line-through">Approve the candidate with HR</div>
<svg style="position:absolute;left:1004.6px;top:357.95000000000005px" width="10.8" height="10.8" viewBox="0 0 10.5 10.5"><rect x="0" y="0" width="10.5" height="10.5" rx="1.6" fill="#8c8c8c"/><path d="M2 5.3 L4.3 7.5 L8.8 2.6" fill="none" stroke="#fff" stroke-width="1.3"/></svg>
<div style="position:absolute;left:883.6999999999999px;top:370.4px;width:135.3px;height:14.200000000000045px;background:#d9ead3"></div>
<div style="position:absolute;left:883.6999999999999px;top:384.1px;width:135.3px;height:1px;background:#cdd6ca"></div>
<div style="position:absolute;left:886.6999999999999px;top:371.2px;width:113.10000000000002px;height:14.200000000000045px;line-height:14.200000000000045px;white-space:nowrap;overflow:hidden;font-size:8px;color:#808080;text-decoration:line-through">Study market news</div>
<svg style="position:absolute;left:1004.6px;top:372.1px" width="10.8" height="10.8" viewBox="0 0 10.5 10.5"><rect x="0" y="0" width="10.5" height="10.5" rx="1.6" fill="#8c8c8c"/><path d="M2 5.3 L4.3 7.5 L8.8 2.6" fill="none" stroke="#fff" stroke-width="1.3"/></svg>
<div style="position:absolute;left:883.6999999999999px;top:384.6px;width:135.3px;height:14.149999999999977px;background:#d9ead3"></div>
<div style="position:absolute;left:883.6999999999999px;top:398.25px;width:135.3px;height:1px;background:#cdd6ca"></div>
<div style="position:absolute;left:886.6999999999999px;top:385.40000000000003px;width:113.10000000000002px;height:14.149999999999977px;line-height:14.149999999999977px;white-space:nowrap;overflow:hidden;font-size:8px;color:#808080;text-decoration:line-through">Research competitors</div>
<svg style="position:absolute;left:1004.6px;top:386.27500000000003px" width="10.8" height="10.8" viewBox="0 0 10.5 10.5"><rect x="0" y="0" width="10.5" height="10.5" rx="1.6" fill="#8c8c8c"/><path d="M2 5.3 L4.3 7.5 L8.8 2.6" fill="none" stroke="#fff" stroke-width="1.3"/></svg>
<div style="position:absolute;left:883.6999999999999px;top:398.75px;width:135.3px;height:14.449999999999989px;background:#d9ead3"></div>
<div style="position:absolute;left:883.6999999999999px;top:412.7px;width:135.3px;height:1px;background:#cdd6ca"></div>
<div style="position:absolute;left:886.6999999999999px;top:399.55px;width:113.10000000000002px;height:14.449999999999989px;line-height:14.449999999999989px;white-space:nowrap;overflow:hidden;font-size:8px;color:#808080;text-decoration:line-through">Pay the bills</div>
<svg style="position:absolute;left:1004.6px;top:400.57500000000005px" width="10.8" height="10.8" viewBox="0 0 10.5 10.5"><rect x="0" y="0" width="10.5" height="10.5" rx="1.6" fill="#8c8c8c"/><path d="M2 5.3 L4.3 7.5 L8.8 2.6" fill="none" stroke="#fff" stroke-width="1.3"/></svg>
<div style="position:absolute;left:883.6999999999999px;top:426.9px;width:135.3px;height:1px;background:#dcdcdc"></div>
<div style="position:absolute;left:886.6999999999999px;top:414.0px;width:113.10000000000002px;height:14.199999999999989px;line-height:14.199999999999989px;white-space:nowrap;overflow:hidden;font-size:8px;color:#222;text-shadow:0 0 0.4px rgba(0,0,0,0.6)">Approve the design</div>
<svg style="position:absolute;left:1004.6px;top:414.9px" width="10.8" height="10.8" viewBox="0 0 10.5 10.5"><rect x="0.6" y="0.6" width="9.3" height="9.3" rx="1.4" fill="#fff" stroke="#a3cc8c" stroke-width="1.3"/></svg>
<div style="position:absolute;left:883.6999999999999px;top:441.0px;width:135.3px;height:1px;background:#dcdcdc"></div>
<div style="position:absolute;left:886.6999999999999px;top:428.2px;width:113.10000000000002px;height:14.100000000000023px;line-height:14.100000000000023px;white-space:nowrap;overflow:hidden;font-size:8px;color:#222;text-shadow:0 0 0.4px rgba(0,0,0,0.6)">Send the technical requirements</div>
<svg style="position:absolute;left:1004.6px;top:429.05px" width="10.8" height="10.8" viewBox="0 0 10.5 10.5"><rect x="0.6" y="0.6" width="9.3" height="9.3" rx="1.4" fill="#fff" stroke="#a3cc8c" stroke-width="1.3"/></svg>
<div style="position:absolute;left:883.6999999999999px;top:455.1px;width:135.3px;height:1px;background:#dcdcdc"></div>
<svg style="position:absolute;left:1004.6px;top:443.15000000000003px" width="10.8" height="10.8" viewBox="0 0 10.5 10.5"><rect x="0.6" y="0.6" width="9.3" height="9.3" rx="1.4" fill="#fff" stroke="#a0a0a0" stroke-width="1.3"/></svg>
<div style="position:absolute;left:883.6999999999999px;top:468.8px;width:135.3px;height:1px;background:#dcdcdc"></div>
<svg style="position:absolute;left:1004.6px;top:457.05000000000007px" width="10.8" height="10.8" viewBox="0 0 10.5 10.5"><rect x="0.6" y="0.6" width="9.3" height="9.3" rx="1.4" fill="#fff" stroke="#a0a0a0" stroke-width="1.3"/></svg>
<div style="position:absolute;left:883.6999999999999px;top:482.9px;width:135.3px;height:1px;background:#dcdcdc"></div>
<svg style="position:absolute;left:1004.6px;top:470.95000000000005px" width="10.8" height="10.8" viewBox="0 0 10.5 10.5"><rect x="0.6" y="0.6" width="9.3" height="9.3" rx="1.4" fill="#fff" stroke="#a0a0a0" stroke-width="1.3"/></svg>
<div style="position:absolute;left:883.6999999999999px;top:497.1px;width:135.3px;height:1px;background:#dcdcdc"></div>
<svg style="position:absolute;left:1004.6px;top:485.1px" width="10.8" height="10.8" viewBox="0 0 10.5 10.5"><rect x="0.6" y="0.6" width="9.3" height="9.3" rx="1.4" fill="#fff" stroke="#a0a0a0" stroke-width="1.3"/></svg>
<div style="position:absolute;left:883.6999999999999px;top:511.2px;width:135.3px;height:1px;background:#dcdcdc"></div>
<svg style="position:absolute;left:1004.6px;top:499.25px" width="10.8" height="10.8" viewBox="0 0 10.5 10.5"><rect x="0.6" y="0.6" width="9.3" height="9.3" rx="1.4" fill="#fff" stroke="#a0a0a0" stroke-width="1.3"/></svg>
<div style="position:absolute;left:883.6999999999999px;top:525.3px;width:135.3px;height:1px;background:#dcdcdc"></div>
<svg style="position:absolute;left:1004.6px;top:513.35px" width="10.8" height="10.8" viewBox="0 0 10.5 10.5"><rect x="0.6" y="0.6" width="9.3" height="9.3" rx="1.4" fill="#fff" stroke="#a0a0a0" stroke-width="1.3"/></svg>
<div style="position:absolute;left:883.6999999999999px;top:539.2px;width:135.3px;height:1px;background:#dcdcdc"></div>
<svg style="position:absolute;left:1004.6px;top:527.35px" width="10.8" height="10.8" viewBox="0 0 10.5 10.5"><rect x="0.6" y="0.6" width="9.3" height="9.3" rx="1.4" fill="#fff" stroke="#a0a0a0" stroke-width="1.3"/></svg>
<svg style="position:absolute;left:1004.6px;top:541.95px" width="10.8" height="10.8" viewBox="0 0 10.5 10.5"><rect x="0.6" y="0.6" width="9.3" height="9.3" rx="1.4" fill="#fff" stroke="#a0a0a0" stroke-width="1.3"/></svg>
<div style="position:absolute;left:883.6999999999999px;top:555px;width:135.3px;height:27.8px;background:#93c47d"></div>
<div style="position:absolute;left:883.6999999999999px;top:555px;width:97.27189349112427px;height:14px;line-height:14px;text-align:center;white-space:nowrap;font-size:9px;color:#fff;text-shadow:0 0 0.4px rgba(255,255,255,0.6)">Completed</div>
<div style="position:absolute;left:883.6999999999999px;top:569px;width:97.27189349112427px;height:14px;line-height:14px;text-align:center;white-space:nowrap;font-size:9px;color:#fff;text-shadow:0 0 0.4px rgba(255,255,255,0.6)">Not Completed</div>
<div style="position:absolute;left:980.9718934911242px;top:555px;width:38.028106508875794px;height:14px;line-height:14px;text-align:center;white-space:nowrap;font-size:9px;color:#fff;text-shadow:0 0 0.4px rgba(255,255,255,0.6)">5</div>
<div style="position:absolute;left:980.9718934911242px;top:569px;width:38.028106508875794px;height:14px;line-height:14px;text-align:center;white-space:nowrap;font-size:9px;color:#fff;text-shadow:0 0 0.4px rgba(255,255,255,0.6)">2</div>
</div></body></html>
